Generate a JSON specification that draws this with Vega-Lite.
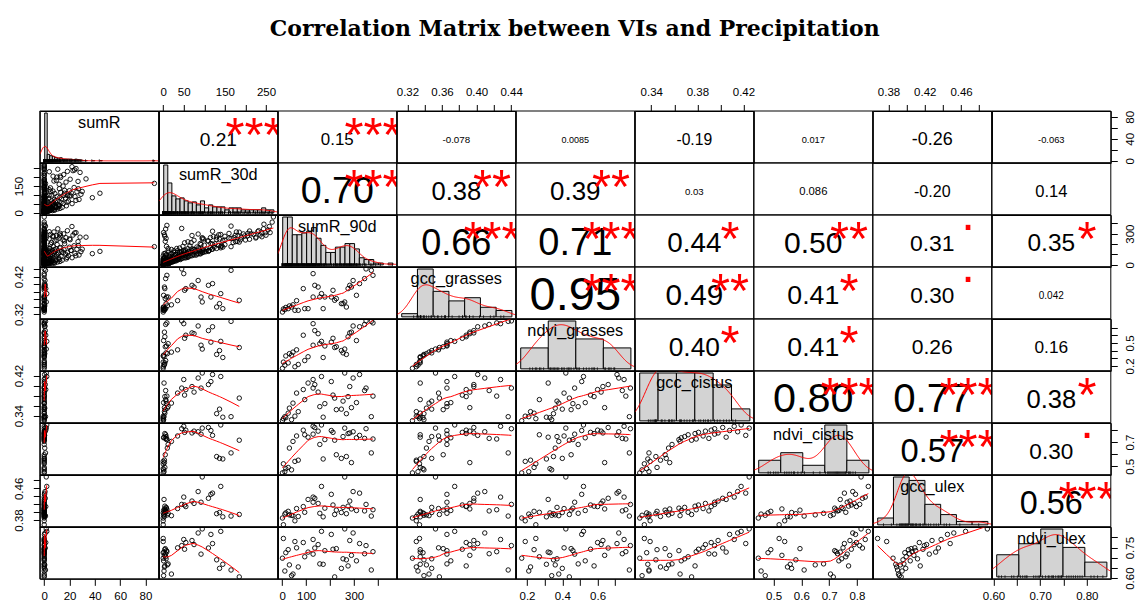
{
  "$schema": "https://vega.github.io/schema/vega-lite/v6.json",
  "title": {"text": "Correlation Matrix between VIs and Precipitation", "font": "DejaVu Serif", "fontSize": 22, "fontWeight": "bold", "color": "#000", "anchor": "middle", "baseline": "alphabetic", "offset": 28},
  "padding": {"left": 12.8, "top": 18, "right": 0, "bottom": 0},
  "datasets": {
    "obs": [
      {"sumR":0,"sumR_30d":0,"sumR_90d":1,"gcc_grasses":0.3258,"ndvi_grasses":0.17,"gcc_cistus":0.330,"ndvi_cistus":0.445,"gcc_ulex":0.385,"ndvi_ulex":0.698},
      {"sumR":0,"sumR_30d":0,"sumR_90d":5,"gcc_grasses":0.334,"ndvi_grasses":0.25,"gcc_cistus":0.334,"ndvi_cistus":0.52,"gcc_ulex":0.368,"ndvi_ulex":0.795},
      {"sumR":0,"sumR_30d":2,"sumR_90d":11,"gcc_grasses":0.3322,"ndvi_grasses":0.21,"gcc_cistus":0.338,"ndvi_cistus":0.455,"gcc_ulex":0.395,"ndvi_ulex":0.635},
      {"sumR":0,"sumR_30d":0,"sumR_90d":15,"gcc_grasses":0.338,"ndvi_grasses":0.33,"gcc_cistus":0.336,"ndvi_cistus":0.48,"gcc_ulex":0.398,"ndvi_ulex":0.725},
      {"sumR":0,"sumR_30d":4,"sumR_90d":25,"gcc_grasses":0.3348,"ndvi_grasses":0.24,"gcc_cistus":0.345,"ndvi_cistus":0.49,"gcc_ulex":0.402,"ndvi_ulex":0.74},
      {"sumR":0.4,"sumR_30d":10,"sumR_90d":30,"gcc_grasses":0.342,"ndvi_grasses":0.36,"gcc_cistus":0.355,"ndvi_cistus":0.65,"gcc_ulex":0.393,"ndvi_ulex":0.665},
      {"sumR":0,"sumR_30d":1,"sumR_90d":39,"gcc_grasses":0.3391,"ndvi_grasses":0.34,"gcc_cistus":0.332,"ndvi_cistus":0.47,"gcc_ulex":0.392,"ndvi_ulex":0.612},
      {"sumR":0,"sumR_30d":20,"sumR_90d":45,"gcc_grasses":0.345,"ndvi_grasses":0.38,"gcc_cistus":0.365,"ndvi_cistus":0.705,"gcc_ulex":0.391,"ndvi_ulex":0.62},
      {"sumR":0,"sumR_30d":0,"sumR_90d":53,"gcc_grasses":0.3303,"ndvi_grasses":0.19,"gcc_cistus":0.339,"ndvi_cistus":0.54,"gcc_ulex":0.378,"ndvi_ulex":0.78},
      {"sumR":0,"sumR_30d":35,"sumR_90d":60,"gcc_grasses":0.356,"ndvi_grasses":0.41,"gcc_cistus":0.385,"ndvi_cistus":0.75,"gcc_ulex":0.409,"ndvi_ulex":0.749},
      {"sumR":0,"sumR_30d":3,"sumR_90d":67,"gcc_grasses":0.3303,"ndvi_grasses":0.22,"gcc_cistus":0.348,"ndvi_cistus":0.55,"gcc_ulex":0.389,"ndvi_ulex":0.655},
      {"sumR":1.2,"sumR_30d":55,"sumR_90d":88,"gcc_grasses":0.388,"ndvi_grasses":0.6,"gcc_cistus":0.392,"ndvi_cistus":0.798,"gcc_ulex":0.414,"ndvi_ulex":0.775},
      {"sumR":0,"sumR_30d":6,"sumR_90d":94,"gcc_grasses":0.3348,"ndvi_grasses":0.27,"gcc_cistus":0.372,"ndvi_cistus":0.76,"gcc_ulex":0.3995,"ndvi_ulex":0.705},
      {"sumR":0,"sumR_30d":2,"sumR_90d":108,"gcc_grasses":0.3348,"ndvi_grasses":0.32,"gcc_cistus":0.405,"ndvi_cistus":0.74,"gcc_ulex":0.432,"ndvi_ulex":0.728},
      {"sumR":0,"sumR_30d":92,"sumR_90d":129,"gcc_grasses":0.3657,"ndvi_grasses":0.47,"gcc_cistus":0.395,"ndvi_cistus":0.765,"gcc_ulex":0.425,"ndvi_ulex":0.718},
      {"sumR":0,"sumR_30d":50,"sumR_90d":129,"gcc_grasses":0.4278,"ndvi_grasses":0.75,"gcc_cistus":0.412,"ndvi_cistus":0.83,"gcc_ulex":0.438,"ndvi_ulex":0.79},
      {"sumR":0.8,"sumR_30d":110,"sumR_90d":136,"gcc_grasses":0.3968,"ndvi_grasses":0.66,"gcc_cistus":0.402,"ndvi_cistus":0.82,"gcc_ulex":0.435,"ndvi_ulex":0.748},
      {"sumR":0,"sumR_30d":75,"sumR_90d":150,"gcc_grasses":0.3922,"ndvi_grasses":0.62,"gcc_cistus":0.387,"ndvi_cistus":0.79,"gcc_ulex":0.422,"ndvi_ulex":0.765},
      {"sumR":0,"sumR_30d":12,"sumR_90d":157,"gcc_grasses":0.3657,"ndvi_grasses":0.49,"gcc_cistus":0.358,"ndvi_cistus":0.68,"gcc_ulex":0.397,"ndvi_ulex":0.67},
      {"sumR":2,"sumR_30d":140,"sumR_90d":164,"gcc_grasses":0.3747,"ndvi_grasses":0.52,"gcc_cistus":0.418,"ndvi_cistus":0.841,"gcc_ulex":0.465,"ndvi_ulex":0.83},
      {"sumR":0,"sumR_30d":145,"sumR_90d":171,"gcc_grasses":0.3348,"ndvi_grasses":0.31,"gcc_cistus":0.337,"ndvi_cistus":0.56,"gcc_ulex":0.388,"ndvi_ulex":0.668},
      {"sumR":0,"sumR_30d":8,"sumR_90d":178,"gcc_grasses":0.3657,"ndvi_grasses":0.46,"gcc_cistus":0.364,"ndvi_cistus":0.72,"gcc_ulex":0.41,"ndvi_ulex":0.735},
      {"sumR":0.2,"sumR_30d":116,"sumR_90d":205,"gcc_grasses":0.3657,"ndvi_grasses":0.51,"gcc_cistus":0.408,"ndvi_cistus":0.795,"gcc_ulex":0.445,"ndvi_ulex":0.815},
      {"sumR":0,"sumR_30d":52,"sumR_90d":212,"gcc_grasses":0.3835,"ndvi_grasses":0.56,"gcc_cistus":0.381,"ndvi_cistus":0.78,"gcc_ulex":0.418,"ndvi_ulex":0.742},
      {"sumR":0,"sumR_30d":185,"sumR_90d":219,"gcc_grasses":0.357,"ndvi_grasses":0.44,"gcc_cistus":0.375,"ndvi_cistus":0.715,"gcc_ulex":0.394,"ndvi_ulex":0.606},
      {"sumR":0,"sumR_30d":5,"sumR_90d":226,"gcc_grasses":0.3614,"ndvi_grasses":0.45,"gcc_cistus":0.352,"ndvi_cistus":0.595,"gcc_ulex":0.405,"ndvi_ulex":0.745},
      {"sumR":0,"sumR_30d":137,"sumR_90d":247,"gcc_grasses":0.3481,"ndvi_grasses":0.4,"gcc_cistus":0.353,"ndvi_cistus":0.565,"gcc_ulex":0.399,"ndvi_ulex":0.648},
      {"sumR":0,"sumR_30d":7,"sumR_90d":254,"gcc_grasses":0.3481,"ndvi_grasses":0.37,"gcc_cistus":0.369,"ndvi_cistus":0.745,"gcc_ulex":0.412,"ndvi_ulex":0.695},
      {"sumR":1.6,"sumR_30d":95,"sumR_90d":261,"gcc_grasses":0.3525,"ndvi_grasses":0.42,"gcc_cistus":0.425,"ndvi_cistus":0.815,"gcc_ulex":0.489,"ndvi_ulex":0.842},
      {"sumR":0,"sumR_30d":130,"sumR_90d":268,"gcc_grasses":0.3391,"ndvi_grasses":0.35,"gcc_cistus":0.344,"ndvi_cistus":0.58,"gcc_ulex":0.396,"ndvi_ulex":0.69},
      {"sumR":0,"sumR_30d":4,"sumR_90d":275,"gcc_grasses":0.388,"ndvi_grasses":0.58,"gcc_cistus":0.378,"ndvi_cistus":0.77,"gcc_ulex":0.415,"ndvi_ulex":0.66},
      {"sumR":0,"sumR_30d":70,"sumR_90d":282,"gcc_grasses":0.3968,"ndvi_grasses":0.63,"gcc_cistus":0.398,"ndvi_cistus":0.775,"gcc_ulex":0.428,"ndvi_ulex":0.785},
      {"sumR":0,"sumR_30d":3,"sumR_90d":289,"gcc_grasses":0.3922,"ndvi_grasses":0.64,"gcc_cistus":0.356,"ndvi_cistus":0.53,"gcc_ulex":0.408,"ndvi_ulex":0.712},
      {"sumR":0.6,"sumR_30d":85,"sumR_90d":296,"gcc_grasses":0.4095,"ndvi_grasses":0.72,"gcc_cistus":0.415,"ndvi_cistus":0.785,"gcc_ulex":0.452,"ndvi_ulex":0.822},
      {"sumR":0,"sumR_30d":1,"sumR_90d":310,"gcc_grasses":0.3702,"ndvi_grasses":0.53,"gcc_cistus":0.366,"ndvi_cistus":0.735,"gcc_ulex":0.404,"ndvi_ulex":0.685},
      {"sumR":0.3,"sumR_30d":120,"sumR_90d":323,"gcc_grasses":0.4013,"ndvi_grasses":0.71,"gcc_cistus":0.422,"ndvi_cistus":0.755,"gcc_ulex":0.448,"ndvi_ulex":0.77},
      {"sumR":0,"sumR_30d":6,"sumR_90d":344,"gcc_grasses":0.4146,"ndvi_grasses":0.74,"gcc_cistus":0.39,"ndvi_cistus":0.73,"gcc_ulex":0.403,"ndvi_ulex":0.72},
      {"sumR":0,"sumR_30d":45,"sumR_90d":350,"gcc_grasses":0.4403,"ndvi_grasses":0.786,"gcc_cistus":0.395,"ndvi_cistus":0.81,"gcc_ulex":0.4195,"ndvi_ulex":0.76},
      {"sumR":1,"sumR_30d":165,"sumR_90d":372,"gcc_grasses":0.4366,"ndvi_grasses":0.78,"gcc_cistus":0.338,"ndvi_cistus":0.61,"gcc_ulex":0.39,"ndvi_ulex":0.64},
      {"sumR":0,"sumR_30d":9,"sumR_90d":379,"gcc_grasses":0.4233,"ndvi_grasses":0.76,"gcc_cistus":0.379,"ndvi_cistus":0.725,"gcc_ulex":0.406,"ndvi_ulex":0.73},
      {"sumR":0,"sumR_30d":0,"sumR_90d":0},{"sumR":0,"sumR_30d":0,"sumR_90d":0},{"sumR":0,"sumR_30d":0,"sumR_90d":0},{"sumR":0,"sumR_30d":0,"sumR_90d":0},{"sumR":0,"sumR_30d":0,"sumR_90d":0},
      {"sumR":0,"sumR_30d":0,"sumR_90d":2},{"sumR":0,"sumR_30d":1,"sumR_90d":4},{"sumR":0,"sumR_30d":0,"sumR_90d":6},{"sumR":0.5,"sumR_30d":3,"sumR_90d":8},{"sumR":0,"sumR_30d":2,"sumR_90d":10},
      {"sumR":0,"sumR_30d":6,"sumR_90d":12},{"sumR":1.2,"sumR_30d":8,"sumR_90d":14},{"sumR":0,"sumR_30d":4,"sumR_90d":16},{"sumR":0,"sumR_30d":11,"sumR_90d":18},{"sumR":2.5,"sumR_30d":15,"sumR_90d":19},
      {"sumR":0,"sumR_30d":0,"sumR_90d":21},{"sumR":0,"sumR_30d":2,"sumR_90d":22},{"sumR":0,"sumR_30d":5,"sumR_90d":24},{"sumR":0,"sumR_30d":0,"sumR_90d":25},{"sumR":3,"sumR_30d":12,"sumR_90d":26},
      {"sumR":0,"sumR_30d":18,"sumR_90d":27},{"sumR":0,"sumR_30d":8,"sumR_90d":29},{"sumR":0,"sumR_30d":0,"sumR_90d":30},{"sumR":6,"sumR_30d":22,"sumR_90d":31},{"sumR":0,"sumR_30d":3,"sumR_90d":33},
      {"sumR":0,"sumR_30d":14,"sumR_90d":34},{"sumR":0,"sumR_30d":26,"sumR_90d":35},{"sumR":1,"sumR_30d":9,"sumR_90d":36},{"sumR":0,"sumR_30d":0,"sumR_90d":37},{"sumR":9,"sumR_30d":31,"sumR_90d":38},
      {"sumR":0,"sumR_30d":19,"sumR_90d":39},{"sumR":0,"sumR_30d":0,"sumR_90d":41},{"sumR":0,"sumR_30d":12,"sumR_90d":43},{"sumR":4.5,"sumR_30d":28,"sumR_90d":45},{"sumR":0,"sumR_30d":35,"sumR_90d":46},
      {"sumR":0,"sumR_30d":6,"sumR_90d":48},{"sumR":0,"sumR_30d":20,"sumR_90d":50},{"sumR":12,"sumR_30d":42,"sumR_90d":52},{"sumR":0,"sumR_30d":1,"sumR_90d":54},{"sumR":0,"sumR_30d":15,"sumR_90d":56},
      {"sumR":2,"sumR_30d":38,"sumR_90d":58},{"sumR":0,"sumR_30d":0,"sumR_90d":61},{"sumR":0,"sumR_30d":25,"sumR_90d":62},{"sumR":7,"sumR_30d":47,"sumR_90d":64},{"sumR":0,"sumR_30d":10,"sumR_90d":66},
      {"sumR":0,"sumR_30d":55,"sumR_90d":68},{"sumR":0,"sumR_30d":33,"sumR_90d":70},{"sumR":18,"sumR_30d":60,"sumR_90d":72},{"sumR":0,"sumR_30d":4,"sumR_90d":74},{"sumR":0,"sumR_30d":40,"sumR_90d":76},
      {"sumR":0.8,"sumR_30d":22,"sumR_90d":78},{"sumR":0,"sumR_30d":15,"sumR_90d":81},{"sumR":0,"sumR_30d":62,"sumR_90d":83},{"sumR":5,"sumR_30d":35,"sumR_90d":85},{"sumR":0,"sumR_30d":0,"sumR_90d":86},
      {"sumR":25,"sumR_30d":70,"sumR_90d":88},{"sumR":0,"sumR_30d":48,"sumR_90d":90},{"sumR":0,"sumR_30d":28,"sumR_90d":92},{"sumR":3.5,"sumR_30d":80,"sumR_90d":94},{"sumR":0,"sumR_30d":8,"sumR_90d":96},
      {"sumR":0,"sumR_30d":55,"sumR_90d":98},{"sumR":0,"sumR_30d":30,"sumR_90d":101},{"sumR":0,"sumR_30d":72,"sumR_90d":102},{"sumR":11,"sumR_30d":45,"sumR_90d":104},{"sumR":0,"sumR_30d":90,"sumR_90d":105},
      {"sumR":0,"sumR_30d":18,"sumR_90d":107},{"sumR":38,"sumR_30d":85,"sumR_90d":108},{"sumR":0,"sumR_30d":58,"sumR_90d":110},{"sumR":0,"sumR_30d":5,"sumR_90d":112},{"sumR":2,"sumR_30d":66,"sumR_90d":114},
      {"sumR":0,"sumR_30d":40,"sumR_90d":115},{"sumR":0,"sumR_30d":95,"sumR_90d":117},{"sumR":15,"sumR_30d":52,"sumR_90d":119},{"sumR":0,"sumR_30d":25,"sumR_90d":121},{"sumR":0,"sumR_30d":78,"sumR_90d":123},
      {"sumR":6,"sumR_30d":100,"sumR_90d":125},{"sumR":0,"sumR_30d":44,"sumR_90d":126},{"sumR":0,"sumR_30d":62,"sumR_90d":128},{"sumR":44,"sumR_30d":110,"sumR_90d":130},{"sumR":0,"sumR_30d":12,"sumR_90d":132},
      {"sumR":0,"sumR_30d":88,"sumR_90d":134},{"sumR":1.5,"sumR_30d":70,"sumR_90d":136},{"sumR":0,"sumR_30d":35,"sumR_90d":137},{"sumR":21,"sumR_30d":95,"sumR_90d":139},{"sumR":0,"sumR_30d":50,"sumR_90d":141},
      {"sumR":0,"sumR_30d":105,"sumR_90d":144},{"sumR":8,"sumR_30d":75,"sumR_90d":146},{"sumR":0,"sumR_30d":20,"sumR_90d":148},{"sumR":30,"sumR_30d":120,"sumR_90d":151},{"sumR":0,"sumR_30d":88,"sumR_90d":153},
      {"sumR":0,"sumR_30d":60,"sumR_90d":156},{"sumR":4,"sumR_30d":130,"sumR_90d":158},{"sumR":0,"sumR_30d":40,"sumR_90d":162},{"sumR":13,"sumR_30d":115,"sumR_90d":167},{"sumR":0,"sumR_30d":82,"sumR_90d":172},
      {"sumR":87,"sumR_30d":165,"sumR_90d":175},{"sumR":0,"sumR_30d":140,"sumR_90d":177},{"sumR":0,"sumR_30d":65,"sumR_90d":182},{"sumR":27,"sumR_30d":135,"sumR_90d":186},{"sumR":0,"sumR_30d":100,"sumR_90d":189},
      {"sumR":0,"sumR_30d":150,"sumR_90d":194},{"sumR":5,"sumR_30d":120,"sumR_90d":198},{"sumR":0,"sumR_30d":90,"sumR_90d":205},{"sumR":0,"sumR_30d":170,"sumR_90d":215},{"sumR":0,"sumR_30d":60,"sumR_90d":222},
      {"sumR":0,"sumR_30d":180,"sumR_90d":225},{"sumR":16,"sumR_30d":110,"sumR_90d":229},{"sumR":0,"sumR_30d":145,"sumR_90d":232},{"sumR":0,"sumR_30d":75,"sumR_90d":236},{"sumR":10,"sumR_30d":200,"sumR_90d":239},
      {"sumR":0,"sumR_30d":130,"sumR_90d":243},{"sumR":0,"sumR_30d":210,"sumR_90d":246},{"sumR":20,"sumR_30d":95,"sumR_90d":250},{"sumR":0,"sumR_30d":165,"sumR_90d":254},{"sumR":0,"sumR_30d":225,"sumR_90d":258},
      {"sumR":0,"sumR_30d":115,"sumR_90d":262},{"sumR":33,"sumR_30d":190,"sumR_90d":266},{"sumR":0,"sumR_30d":240,"sumR_90d":270},{"sumR":0,"sumR_30d":150,"sumR_90d":274},{"sumR":7,"sumR_30d":205,"sumR_90d":278},
      {"sumR":0,"sumR_30d":175,"sumR_90d":282},{"sumR":0,"sumR_30d":250,"sumR_90d":285},{"sumR":12,"sumR_30d":135,"sumR_90d":289},{"sumR":0,"sumR_30d":220,"sumR_90d":293},{"sumR":0,"sumR_30d":195,"sumR_90d":297},
      {"sumR":0,"sumR_30d":160,"sumR_90d":302},{"sumR":24,"sumR_30d":240,"sumR_90d":306},{"sumR":0,"sumR_30d":260,"sumR_90d":310},{"sumR":0,"sumR_30d":185,"sumR_90d":314},{"sumR":4,"sumR_30d":230,"sumR_90d":318},
      {"sumR":0,"sumR_30d":210,"sumR_90d":325},{"sumR":0,"sumR_30d":255,"sumR_90d":335},{"sumR":0,"sumR_30d":245,"sumR_90d":390},{"sumR":0,"sumR_30d":265,"sumR_90d":410},{"sumR":0,"sumR_30d":268,"sumR_90d":460},
      {"sumR":2.2,"sumR_30d":10,"sumR_90d":11},{"sumR":3.5,"sumR_30d":11,"sumR_90d":12},{"sumR":4.1,"sumR_30d":12,"sumR_90d":13},{"sumR":2.8,"sumR_30d":10,"sumR_90d":14},{"sumR":6.5,"sumR_30d":13,"sumR_90d":15},
      {"sumR":3.0,"sumR_30d":14,"sumR_90d":16},{"sumR":8.2,"sumR_30d":15,"sumR_90d":17},{"sumR":5.5,"sumR_30d":16,"sumR_90d":19},{"sumR":2.4,"sumR_30d":12,"sumR_90d":21},{"sumR":7.8,"sumR_30d":18,"sumR_90d":23},
      {"sumR":4.6,"sumR_30d":15,"sumR_90d":26},{"sumR":10.5,"sumR_30d":22,"sumR_90d":28},{"sumR":3.3,"sumR_30d":11,"sumR_90d":30},{"sumR":12.4,"sumR_30d":25,"sumR_90d":33},{"sumR":5.9,"sumR_30d":20,"sumR_90d":36},
      {"sumR":2.7,"sumR_30d":14,"sumR_90d":39},{"sumR":6.3,"sumR_30d":24,"sumR_90d":42},{"sumR":14.2,"sumR_30d":31,"sumR_90d":45},{"sumR":3.1,"sumR_30d":13,"sumR_90d":49},{"sumR":9.4,"sumR_30d":36,"sumR_90d":53},
      {"sumR":17.5,"sumR_30d":40,"sumR_90d":57},{"sumR":4.8,"sumR_30d":19,"sumR_90d":61},{"sumR":11.6,"sumR_30d":45,"sumR_90d":65},{"sumR":22.0,"sumR_30d":52,"sumR_90d":69},{"sumR":2.9,"sumR_30d":28,"sumR_90d":73},
      {"sumR":8.7,"sumR_30d":38,"sumR_90d":77},{"sumR":13.3,"sumR_30d":58,"sumR_90d":81},{"sumR":3.8,"sumR_30d":16,"sumR_90d":84},{"sumR":19.1,"sumR_30d":66,"sumR_90d":87},{"sumR":6.6,"sumR_30d":42,"sumR_90d":91},
      {"sumR":27.5,"sumR_30d":75,"sumR_90d":95},{"sumR":9.9,"sumR_30d":30,"sumR_90d":99},{"sumR":5.2,"sumR_30d":48,"sumR_90d":101},{"sumR":16.8,"sumR_30d":82,"sumR_90d":104},{"sumR":2.6,"sumR_30d":22,"sumR_90d":108},
      {"sumR":24.3,"sumR_30d":91,"sumR_90d":111},{"sumR":7.4,"sumR_30d":57,"sumR_90d":115},{"sumR":11.1,"sumR_30d":35,"sumR_90d":118},{"sumR":18.5,"sumR_30d":96,"sumR_90d":121},{"sumR":4.2,"sumR_30d":40,"sumR_90d":124},
      {"sumR":29.0,"sumR_30d":104,"sumR_90d":127},{"sumR":8.8,"sumR_30d":62,"sumR_90d":130},{"sumR":13.7,"sumR_30d":77,"sumR_90d":133},{"sumR":3.4,"sumR_30d":26,"sumR_90d":136},{"sumR":21.4,"sumR_30d":112,"sumR_90d":139},
      {"sumR":6.1,"sumR_30d":54,"sumR_90d":142},{"sumR":15.6,"sumR_30d":98,"sumR_90d":146},{"sumR":25.8,"sumR_30d":118,"sumR_90d":150},{"sumR":9.3,"sumR_30d":70,"sumR_90d":154},{"sumR":4.4,"sumR_30d":33,"sumR_90d":158},
      {"sumR":12.2,"sumR_30d":86,"sumR_90d":163},{"sumR":19.9,"sumR_30d":124,"sumR_90d":170},{"sumR":7.0,"sumR_30d":48,"sumR_90d":178},{"sumR":23.6,"sumR_30d":142,"sumR_90d":184},{"sumR":10.2,"sumR_30d":92,"sumR_90d":195},
      {"sumR":16.1,"sumR_30d":126,"sumR_90d":203},{"sumR":5.8,"sumR_30d":68,"sumR_90d":214},{"sumR":26.7,"sumR_30d":176,"sumR_90d":223},{"sumR":8.4,"sumR_30d":108,"sumR_90d":230},{"sumR":14.9,"sumR_30d":150,"sumR_90d":238},
      {"sumR":20.5,"sumR_30d":188,"sumR_90d":242},{"sumR":3.9,"sumR_30d":98,"sumR_90d":249},{"sumR":11.8,"sumR_30d":160,"sumR_90d":256},{"sumR":17.2,"sumR_30d":172,"sumR_90d":261},{"sumR":28.3,"sumR_30d":226,"sumR_90d":266},
      {"sumR":6.9,"sumR_30d":122,"sumR_90d":272},{"sumR":13.0,"sumR_30d":198,"sumR_90d":278},{"sumR":9.6,"sumR_30d":182,"sumR_90d":281},{"sumR":22.7,"sumR_30d":236,"sumR_90d":286},{"sumR":4.9,"sumR_30d":140,"sumR_90d":292},
      {"sumR":15.4,"sumR_30d":214,"sumR_90d":298},{"sumR":12.6,"sumR_30d":206,"sumR_90d":303},{"sumR":25.1,"sumR_30d":248,"sumR_90d":309},{"sumR":7.7,"sumR_30d":178,"sumR_90d":316},{"sumR":18.3,"sumR_30d":232,"sumR_90d":328},
      {"sumR":10.7,"sumR_30d":244,"sumR_90d":346},{"sumR":21.9,"sumR_30d":258,"sumR_90d":368}
    ],
    "cors": [
      {"v1":"sumR","v2":"sumR_30d","r":0.21,"label":"0.21","signif":"***"},
      {"v1":"sumR","v2":"sumR_90d","r":0.15,"label":"0.15","signif":"***"},
      {"v1":"sumR","v2":"gcc_grasses","r":-0.078,"label":"-0.078","signif":""},
      {"v1":"sumR","v2":"ndvi_grasses","r":0.0085,"label":"0.0085","signif":""},
      {"v1":"sumR","v2":"gcc_cistus","r":-0.19,"label":"-0.19","signif":""},
      {"v1":"sumR","v2":"ndvi_cistus","r":0.017,"label":"0.017","signif":""},
      {"v1":"sumR","v2":"gcc_ulex","r":-0.26,"label":"-0.26","signif":""},
      {"v1":"sumR","v2":"ndvi_ulex","r":-0.063,"label":"-0.063","signif":""},
      {"v1":"sumR_30d","v2":"sumR_90d","r":0.70,"label":"0.70","signif":"***"},
      {"v1":"sumR_30d","v2":"gcc_grasses","r":0.38,"label":"0.38","signif":"**"},
      {"v1":"sumR_30d","v2":"ndvi_grasses","r":0.39,"label":"0.39","signif":"**"},
      {"v1":"sumR_30d","v2":"gcc_cistus","r":0.03,"label":"0.03","signif":""},
      {"v1":"sumR_30d","v2":"ndvi_cistus","r":0.086,"label":"0.086","signif":""},
      {"v1":"sumR_30d","v2":"gcc_ulex","r":-0.20,"label":"-0.20","signif":""},
      {"v1":"sumR_30d","v2":"ndvi_ulex","r":0.14,"label":"0.14","signif":""},
      {"v1":"sumR_90d","v2":"gcc_grasses","r":0.66,"label":"0.66","signif":"***"},
      {"v1":"sumR_90d","v2":"ndvi_grasses","r":0.71,"label":"0.71","signif":"***"},
      {"v1":"sumR_90d","v2":"gcc_cistus","r":0.44,"label":"0.44","signif":"*"},
      {"v1":"sumR_90d","v2":"ndvi_cistus","r":0.50,"label":"0.50","signif":"**"},
      {"v1":"sumR_90d","v2":"gcc_ulex","r":0.31,"label":"0.31","signif":"."},
      {"v1":"sumR_90d","v2":"ndvi_ulex","r":0.35,"label":"0.35","signif":"*"},
      {"v1":"gcc_grasses","v2":"ndvi_grasses","r":0.95,"label":"0.95","signif":"***"},
      {"v1":"gcc_grasses","v2":"gcc_cistus","r":0.49,"label":"0.49","signif":"**"},
      {"v1":"gcc_grasses","v2":"ndvi_cistus","r":0.41,"label":"0.41","signif":"*"},
      {"v1":"gcc_grasses","v2":"gcc_ulex","r":0.30,"label":"0.30","signif":"."},
      {"v1":"gcc_grasses","v2":"ndvi_ulex","r":0.042,"label":"0.042","signif":""},
      {"v1":"ndvi_grasses","v2":"gcc_cistus","r":0.40,"label":"0.40","signif":"*"},
      {"v1":"ndvi_grasses","v2":"ndvi_cistus","r":0.41,"label":"0.41","signif":"*"},
      {"v1":"ndvi_grasses","v2":"gcc_ulex","r":0.26,"label":"0.26","signif":""},
      {"v1":"ndvi_grasses","v2":"ndvi_ulex","r":0.16,"label":"0.16","signif":""},
      {"v1":"gcc_cistus","v2":"ndvi_cistus","r":0.80,"label":"0.80","signif":"***"},
      {"v1":"gcc_cistus","v2":"gcc_ulex","r":0.77,"label":"0.77","signif":"***"},
      {"v1":"gcc_cistus","v2":"ndvi_ulex","r":0.38,"label":"0.38","signif":"*"},
      {"v1":"ndvi_cistus","v2":"gcc_ulex","r":0.57,"label":"0.57","signif":"***"},
      {"v1":"ndvi_cistus","v2":"ndvi_ulex","r":0.30,"label":"0.30","signif":"."},
      {"v1":"gcc_ulex","v2":"ndvi_ulex","r":0.56,"label":"0.56","signif":"***"}
    ],
    "vars": [{"name":"sumR"},{"name":"sumR_30d"},{"name":"sumR_90d"},{"name":"gcc_grasses"},{"name":"ndvi_grasses"},{"name":"gcc_cistus"},{"name":"ndvi_cistus"},{"name":"gcc_ulex"},{"name":"ndvi_ulex"}],
    "frame": [{"part":"panel"}]
  },
  "data": {"name": "obs"},
  "columns": 9,
  "spacing": 0,
  "bounds": "flush",
  "resolve": {"scale": {"size": "independent"}},
  "concat": [
    {"width":119,"height":51.85,"transform":[{"filter":"isValid(datum.sumR)"}],"layer":[
      {"mark":{"type":"bar","clip":true},"encoding":{"x":{"field":"sumR","type":"quantitative","bin":{"extent":[0,88],"step":2,"nice":false},"scale":{"domain":[-3.52,91.52],"nice":false},"axis":null},"y":{"aggregate":"count","type":"quantitative","scale":{"domain":[0,140],"nice":false,"padding":2},"axis":null}}},
      {"transform":[{"density":"sumR","counts":true,"bandwidth":3,"extent":[-3.52,91.52],"steps":200}],"mark":{"type":"line","clip":true},"encoding":{"x":{"field":"value","type":"quantitative","scale":{"domain":[-3.52,91.52],"nice":false},"axis":null},"y":{"field":"density","type":"quantitative","scale":{"domain":[0,70],"nice":false,"padding":2},"axis":null}}},
      {"mark":{"type":"tick","orient":"vertical","size":3},"encoding":{"x":{"field":"sumR","type":"quantitative","scale":{"domain":[-3.52,91.52],"nice":false},"axis":null},"y":{"datum":0,"type":"quantitative","scale":{"domain":[0,140],"nice":false,"padding":2},"axis":null}}},
      {"data":{"name":"vars"},"transform":[{"filter":"datum.name=='sumR'"}],"mark":{"type":"text","fontSize":16.3,"baseline":"alphabetic","dy":-9.4},"encoding":{"text":{"field":"name","type":"nominal"}}},
      {"data":{"name":"frame"},"mark":"rect","encoding":{}}
    ],"resolve":{"scale":{"x":"independent","y":"independent"}}},
    {"width":119,"height":51.85,"data":{"name":"cors"},"transform":[{"filter":"datum.v1=='sumR'&&datum.v2=='sumR_30d'"}],"layer":[
      {"data":{"name":"obs"},"mark":{"type":"point","opacity":0},"encoding":{"x":{"field":"sumR_30d","type":"quantitative","scale":{"domain":[-10.7,278.7],"nice":false},"axis":{"orient":"top","title":null,"labelOverlap":false,"values":[0,50,100,150,200,250],"format":"d","labelExpr":"indexof(['0','50','150','250'],datum.label)>=0?datum.label:''"}}}},
      {"mark":{"type":"text","baseline":"middle","dy":3.5},"encoding":{"text":{"field":"label","type":"nominal"},"size":{"field":"r","type":"quantitative","scale":{"domain":[-1,-0.1,-0.0999,-0.0001,0,0.0999,0.1,1],"range":[41.7,12.84,10.32,7.74,8.78,11.7,15.04,48.9],"nice":false},"legend":null}}},
      {"transform":[{"filter":"datum.signif!='.'"}],"mark":{"type":"text","color":"#ff0000","fontSize":48.9,"baseline":"alphabetic","dx":35.7,"dy":14.3,"clip":true},"encoding":{"text":{"field":"signif","type":"nominal"}}},
      {"transform":[{"filter":"datum.signif=='.'"}],"mark":{"type":"text","color":"#ff0000","fontSize":48.9,"baseline":"alphabetic","dx":35.7,"dy":-11.2},"encoding":{"text":{"field":"signif","type":"nominal"}}},
      {"data":{"name":"frame"},"mark":"rect","encoding":{}}
    ]},
    {"width":119,"height":51.85,"data":{"name":"cors"},"transform":[{"filter":"datum.v1=='sumR'&&datum.v2=='sumR_90d'"}],"layer":[
      {"mark":{"type":"text","baseline":"middle","dy":3.5},"encoding":{"text":{"field":"label","type":"nominal"},"size":{"field":"r","type":"quantitative","scale":{"domain":[-1,-0.1,-0.0999,-0.0001,0,0.0999,0.1,1],"range":[41.7,12.84,10.32,7.74,8.78,11.7,15.04,48.9],"nice":false},"legend":null}}},
      {"transform":[{"filter":"datum.signif!='.'"}],"mark":{"type":"text","color":"#ff0000","fontSize":48.9,"baseline":"alphabetic","dx":35.7,"dy":14.3,"clip":true},"encoding":{"text":{"field":"signif","type":"nominal"}}},
      {"transform":[{"filter":"datum.signif=='.'"}],"mark":{"type":"text","color":"#ff0000","fontSize":48.9,"baseline":"alphabetic","dx":35.7,"dy":-11.2},"encoding":{"text":{"field":"signif","type":"nominal"}}},
      {"data":{"name":"frame"},"mark":"rect","encoding":{}}
    ]},
    {"width":119,"height":51.85,"data":{"name":"cors"},"transform":[{"filter":"datum.v1=='sumR'&&datum.v2=='gcc_grasses'"}],"layer":[
      {"data":{"name":"obs"},"mark":{"type":"point","opacity":0},"encoding":{"x":{"field":"gcc_grasses","type":"quantitative","scale":{"domain":[0.3077,0.4454],"nice":false},"axis":{"orient":"top","title":null,"labelOverlap":false,"values":[0.32,0.34,0.36,0.38,0.4,0.42,0.44],"format":".2f","labelExpr":"indexof(['0.32','0.36','0.40','0.44'],datum.label)>=0?datum.label:''"}}}},
      {"mark":{"type":"text","baseline":"middle","dy":3.5},"encoding":{"text":{"field":"label","type":"nominal"},"size":{"field":"r","type":"quantitative","scale":{"domain":[-1,-0.1,-0.0999,-0.0001,0,0.0999,0.1,1],"range":[41.7,12.84,10.32,7.74,8.78,11.7,15.04,48.9],"nice":false},"legend":null}}},
      {"transform":[{"filter":"datum.signif!='.'"}],"mark":{"type":"text","color":"#ff0000","fontSize":48.9,"baseline":"alphabetic","dx":35.7,"dy":14.3,"clip":true},"encoding":{"text":{"field":"signif","type":"nominal"}}},
      {"transform":[{"filter":"datum.signif=='.'"}],"mark":{"type":"text","color":"#ff0000","fontSize":48.9,"baseline":"alphabetic","dx":35.7,"dy":-11.2},"encoding":{"text":{"field":"signif","type":"nominal"}}},
      {"data":{"name":"frame"},"mark":"rect","encoding":{}}
    ]},
    {"width":119,"height":51.85,"data":{"name":"cors"},"transform":[{"filter":"datum.v1=='sumR'&&datum.v2=='ndvi_grasses'"}],"layer":[
      {"mark":{"type":"text","baseline":"middle","dy":3.5},"encoding":{"text":{"field":"label","type":"nominal"},"size":{"field":"r","type":"quantitative","scale":{"domain":[-1,-0.1,-0.0999,-0.0001,0,0.0999,0.1,1],"range":[41.7,12.84,10.32,7.74,8.78,11.7,15.04,48.9],"nice":false},"legend":null}}},
      {"transform":[{"filter":"datum.signif!='.'"}],"mark":{"type":"text","color":"#ff0000","fontSize":48.9,"baseline":"alphabetic","dx":35.7,"dy":14.3,"clip":true},"encoding":{"text":{"field":"signif","type":"nominal"}}},
      {"transform":[{"filter":"datum.signif=='.'"}],"mark":{"type":"text","color":"#ff0000","fontSize":48.9,"baseline":"alphabetic","dx":35.7,"dy":-11.2},"encoding":{"text":{"field":"signif","type":"nominal"}}},
      {"data":{"name":"frame"},"mark":"rect","encoding":{}}
    ]},
    {"width":119,"height":51.85,"data":{"name":"cors"},"transform":[{"filter":"datum.v1=='sumR'&&datum.v2=='gcc_cistus'"}],"layer":[
      {"data":{"name":"obs"},"mark":{"type":"point","opacity":0},"encoding":{"x":{"field":"gcc_cistus","type":"quantitative","scale":{"domain":[0.3257,0.429],"nice":false},"axis":{"orient":"top","title":null,"labelOverlap":false,"values":[0.34,0.36,0.38,0.4,0.42],"format":".2f","labelExpr":"indexof(['0.34','0.38','0.42'],datum.label)>=0?datum.label:''"}}}},
      {"mark":{"type":"text","baseline":"middle","dy":3.5},"encoding":{"text":{"field":"label","type":"nominal"},"size":{"field":"r","type":"quantitative","scale":{"domain":[-1,-0.1,-0.0999,-0.0001,0,0.0999,0.1,1],"range":[41.7,12.84,10.32,7.74,8.78,11.7,15.04,48.9],"nice":false},"legend":null}}},
      {"transform":[{"filter":"datum.signif!='.'"}],"mark":{"type":"text","color":"#ff0000","fontSize":48.9,"baseline":"alphabetic","dx":35.7,"dy":14.3,"clip":true},"encoding":{"text":{"field":"signif","type":"nominal"}}},
      {"transform":[{"filter":"datum.signif=='.'"}],"mark":{"type":"text","color":"#ff0000","fontSize":48.9,"baseline":"alphabetic","dx":35.7,"dy":-11.2},"encoding":{"text":{"field":"signif","type":"nominal"}}},
      {"data":{"name":"frame"},"mark":"rect","encoding":{}}
    ]},
    {"width":119,"height":51.85,"data":{"name":"cors"},"transform":[{"filter":"datum.v1=='sumR'&&datum.v2=='ndvi_cistus'"}],"layer":[
      {"mark":{"type":"text","baseline":"middle","dy":3.5},"encoding":{"text":{"field":"label","type":"nominal"},"size":{"field":"r","type":"quantitative","scale":{"domain":[-1,-0.1,-0.0999,-0.0001,0,0.0999,0.1,1],"range":[41.7,12.84,10.32,7.74,8.78,11.7,15.04,48.9],"nice":false},"legend":null}}},
      {"transform":[{"filter":"datum.signif!='.'"}],"mark":{"type":"text","color":"#ff0000","fontSize":48.9,"baseline":"alphabetic","dx":35.7,"dy":14.3,"clip":true},"encoding":{"text":{"field":"signif","type":"nominal"}}},
      {"transform":[{"filter":"datum.signif=='.'"}],"mark":{"type":"text","color":"#ff0000","fontSize":48.9,"baseline":"alphabetic","dx":35.7,"dy":-11.2},"encoding":{"text":{"field":"signif","type":"nominal"}}},
      {"data":{"name":"frame"},"mark":"rect","encoding":{}}
    ]},
    {"width":119,"height":51.85,"data":{"name":"cors"},"transform":[{"filter":"datum.v1=='sumR'&&datum.v2=='gcc_ulex'"}],"layer":[
      {"data":{"name":"obs"},"mark":{"type":"point","opacity":0},"encoding":{"x":{"field":"gcc_ulex","type":"quantitative","scale":{"domain":[0.3627,0.4939],"nice":false},"axis":{"orient":"top","title":null,"labelOverlap":false,"values":[0.38,0.4,0.42,0.44,0.46,0.48],"format":".2f","labelExpr":"indexof(['0.38','0.42','0.46'],datum.label)>=0?datum.label:''"}}}},
      {"mark":{"type":"text","baseline":"middle","dy":3.5},"encoding":{"text":{"field":"label","type":"nominal"},"size":{"field":"r","type":"quantitative","scale":{"domain":[-1,-0.1,-0.0999,-0.0001,0,0.0999,0.1,1],"range":[41.7,12.84,10.32,7.74,8.78,11.7,15.04,48.9],"nice":false},"legend":null}}},
      {"transform":[{"filter":"datum.signif!='.'"}],"mark":{"type":"text","color":"#ff0000","fontSize":48.9,"baseline":"alphabetic","dx":35.7,"dy":14.3,"clip":true},"encoding":{"text":{"field":"signif","type":"nominal"}}},
      {"transform":[{"filter":"datum.signif=='.'"}],"mark":{"type":"text","color":"#ff0000","fontSize":48.9,"baseline":"alphabetic","dx":35.7,"dy":-11.2},"encoding":{"text":{"field":"signif","type":"nominal"}}},
      {"data":{"name":"frame"},"mark":"rect","encoding":{}}
    ]},
    {"width":119,"height":51.85,"data":{"name":"cors"},"transform":[{"filter":"datum.v1=='sumR'&&datum.v2=='ndvi_ulex'"}],"layer":[
      {"data":{"name":"obs"},"mark":{"type":"point","opacity":0},"encoding":{"y":{"field":"sumR","type":"quantitative","scale":{"domain":[-3.5,90.5],"nice":false},"axis":{"orient":"right","title":null,"labelOverlap":false,"values":[0,20,40,60,80],"format":"d","labelExpr":"indexof(['0','40','80'],datum.label)>=0?datum.label:''"}}}},
      {"mark":{"type":"text","baseline":"middle","dy":3.5},"encoding":{"text":{"field":"label","type":"nominal"},"size":{"field":"r","type":"quantitative","scale":{"domain":[-1,-0.1,-0.0999,-0.0001,0,0.0999,0.1,1],"range":[41.7,12.84,10.32,7.74,8.78,11.7,15.04,48.9],"nice":false},"legend":null}}},
      {"transform":[{"filter":"datum.signif!='.'"}],"mark":{"type":"text","color":"#ff0000","fontSize":48.9,"baseline":"alphabetic","dx":35.7,"dy":14.3,"clip":true},"encoding":{"text":{"field":"signif","type":"nominal"}}},
      {"transform":[{"filter":"datum.signif=='.'"}],"mark":{"type":"text","color":"#ff0000","fontSize":48.9,"baseline":"alphabetic","dx":35.7,"dy":-11.2},"encoding":{"text":{"field":"signif","type":"nominal"}}},
      {"data":{"name":"frame"},"mark":"rect","encoding":{}}
    ]},

    {"width":119,"height":51.85,"transform":[{"filter":"isValid(datum.sumR)&&isValid(datum.sumR_30d)"}],"layer":[
      {"mark":{"type":"point","clip":true},"encoding":{"x":{"field":"sumR","type":"quantitative","scale":{"domain":[-3.5,90.5],"nice":false},"axis":null},"y":{"field":"sumR_30d","type":"quantitative","scale":{"domain":[-10.7,278.7],"nice":false},"axis":{"orient":"left","title":null,"labelOverlap":false,"values":[0,50,100,150,200,250],"format":"d","labelExpr":"indexof(['0','150'],datum.label)>=0?datum.label:''"}}}},
      {"transform":[{"loess":"sumR_30d","on":"sumR","bandwidth":0.67}],"mark":{"type":"line","clip":true},"encoding":{"x":{"field":"sumR","type":"quantitative"},"y":{"field":"sumR_30d","type":"quantitative","axis":{"orient":"left","title":null,"labelOverlap":false,"values":[0,50,100,150,200,250],"format":"d","labelExpr":"indexof(['0','150'],datum.label)>=0?datum.label:''"}}}},
      {"data":{"name":"frame"},"mark":"rect","encoding":{}}
    ]},
    {"width":119,"height":51.85,"transform":[{"filter":"isValid(datum.sumR_30d)"}],"layer":[
      {"mark":{"type":"bar","clip":true},"encoding":{"x":{"field":"sumR_30d","type":"quantitative","bin":{"extent":[0,270],"step":10,"nice":false},"scale":{"domain":[-10.8,280.8],"nice":false},"axis":null},"y":{"aggregate":"count","type":"quantitative","scale":{"domain":[0,48],"nice":false,"padding":2},"axis":null}}},
      {"transform":[{"density":"sumR_30d","counts":true,"bandwidth":20,"extent":[-10.8,280.8],"steps":200}],"mark":{"type":"line","clip":true},"encoding":{"x":{"field":"value","type":"quantitative","scale":{"domain":[-10.8,280.8],"nice":false},"axis":null},"y":{"field":"density","type":"quantitative","scale":{"domain":[0,4.8],"nice":false,"padding":2},"axis":null}}},
      {"mark":{"type":"tick","orient":"vertical","size":3},"encoding":{"x":{"field":"sumR_30d","type":"quantitative","scale":{"domain":[-10.8,280.8],"nice":false},"axis":null},"y":{"datum":0,"type":"quantitative","scale":{"domain":[0,48],"nice":false,"padding":2},"axis":null}}},
      {"data":{"name":"vars"},"transform":[{"filter":"datum.name=='sumR_30d'"}],"mark":{"type":"text","fontSize":16.3,"baseline":"alphabetic","dy":-9.4},"encoding":{"text":{"field":"name","type":"nominal"}}},
      {"data":{"name":"frame"},"mark":"rect","encoding":{}}
    ],"resolve":{"scale":{"x":"independent","y":"independent"}}},
    {"width":119,"height":51.85,"data":{"name":"cors"},"transform":[{"filter":"datum.v1=='sumR_30d'&&datum.v2=='sumR_90d'"}],"layer":[
      {"mark":{"type":"text","baseline":"middle","dy":3.5},"encoding":{"text":{"field":"label","type":"nominal"},"size":{"field":"r","type":"quantitative","scale":{"domain":[-1,-0.1,-0.0999,-0.0001,0,0.0999,0.1,1],"range":[41.7,12.84,10.32,7.74,8.78,11.7,15.04,48.9],"nice":false},"legend":null}}},
      {"transform":[{"filter":"datum.signif!='.'"}],"mark":{"type":"text","color":"#ff0000","fontSize":48.9,"baseline":"alphabetic","dx":35.7,"dy":14.3,"clip":true},"encoding":{"text":{"field":"signif","type":"nominal"}}},
      {"transform":[{"filter":"datum.signif=='.'"}],"mark":{"type":"text","color":"#ff0000","fontSize":48.9,"baseline":"alphabetic","dx":35.7,"dy":-11.2},"encoding":{"text":{"field":"signif","type":"nominal"}}},
      {"data":{"name":"frame"},"mark":"rect","encoding":{}}
    ]},
    {"width":119,"height":51.85,"data":{"name":"cors"},"transform":[{"filter":"datum.v1=='sumR_30d'&&datum.v2=='gcc_grasses'"}],"layer":[
      {"mark":{"type":"text","baseline":"middle","dy":3.5},"encoding":{"text":{"field":"label","type":"nominal"},"size":{"field":"r","type":"quantitative","scale":{"domain":[-1,-0.1,-0.0999,-0.0001,0,0.0999,0.1,1],"range":[41.7,12.84,10.32,7.74,8.78,11.7,15.04,48.9],"nice":false},"legend":null}}},
      {"transform":[{"filter":"datum.signif!='.'"}],"mark":{"type":"text","color":"#ff0000","fontSize":48.9,"baseline":"alphabetic","dx":35.7,"dy":14.3,"clip":true},"encoding":{"text":{"field":"signif","type":"nominal"}}},
      {"transform":[{"filter":"datum.signif=='.'"}],"mark":{"type":"text","color":"#ff0000","fontSize":48.9,"baseline":"alphabetic","dx":35.7,"dy":-11.2},"encoding":{"text":{"field":"signif","type":"nominal"}}},
      {"data":{"name":"frame"},"mark":"rect","encoding":{}}
    ]},
    {"width":119,"height":51.85,"data":{"name":"cors"},"transform":[{"filter":"datum.v1=='sumR_30d'&&datum.v2=='ndvi_grasses'"}],"layer":[
      {"mark":{"type":"text","baseline":"middle","dy":3.5},"encoding":{"text":{"field":"label","type":"nominal"},"size":{"field":"r","type":"quantitative","scale":{"domain":[-1,-0.1,-0.0999,-0.0001,0,0.0999,0.1,1],"range":[41.7,12.84,10.32,7.74,8.78,11.7,15.04,48.9],"nice":false},"legend":null}}},
      {"transform":[{"filter":"datum.signif!='.'"}],"mark":{"type":"text","color":"#ff0000","fontSize":48.9,"baseline":"alphabetic","dx":35.7,"dy":14.3,"clip":true},"encoding":{"text":{"field":"signif","type":"nominal"}}},
      {"transform":[{"filter":"datum.signif=='.'"}],"mark":{"type":"text","color":"#ff0000","fontSize":48.9,"baseline":"alphabetic","dx":35.7,"dy":-11.2},"encoding":{"text":{"field":"signif","type":"nominal"}}},
      {"data":{"name":"frame"},"mark":"rect","encoding":{}}
    ]},
    {"width":119,"height":51.85,"data":{"name":"cors"},"transform":[{"filter":"datum.v1=='sumR_30d'&&datum.v2=='gcc_cistus'"}],"layer":[
      {"mark":{"type":"text","baseline":"middle","dy":3.5},"encoding":{"text":{"field":"label","type":"nominal"},"size":{"field":"r","type":"quantitative","scale":{"domain":[-1,-0.1,-0.0999,-0.0001,0,0.0999,0.1,1],"range":[41.7,12.84,10.32,7.74,8.78,11.7,15.04,48.9],"nice":false},"legend":null}}},
      {"transform":[{"filter":"datum.signif!='.'"}],"mark":{"type":"text","color":"#ff0000","fontSize":48.9,"baseline":"alphabetic","dx":35.7,"dy":14.3,"clip":true},"encoding":{"text":{"field":"signif","type":"nominal"}}},
      {"transform":[{"filter":"datum.signif=='.'"}],"mark":{"type":"text","color":"#ff0000","fontSize":48.9,"baseline":"alphabetic","dx":35.7,"dy":-11.2},"encoding":{"text":{"field":"signif","type":"nominal"}}},
      {"data":{"name":"frame"},"mark":"rect","encoding":{}}
    ]},
    {"width":119,"height":51.85,"data":{"name":"cors"},"transform":[{"filter":"datum.v1=='sumR_30d'&&datum.v2=='ndvi_cistus'"}],"layer":[
      {"mark":{"type":"text","baseline":"middle","dy":3.5},"encoding":{"text":{"field":"label","type":"nominal"},"size":{"field":"r","type":"quantitative","scale":{"domain":[-1,-0.1,-0.0999,-0.0001,0,0.0999,0.1,1],"range":[41.7,12.84,10.32,7.74,8.78,11.7,15.04,48.9],"nice":false},"legend":null}}},
      {"transform":[{"filter":"datum.signif!='.'"}],"mark":{"type":"text","color":"#ff0000","fontSize":48.9,"baseline":"alphabetic","dx":35.7,"dy":14.3,"clip":true},"encoding":{"text":{"field":"signif","type":"nominal"}}},
      {"transform":[{"filter":"datum.signif=='.'"}],"mark":{"type":"text","color":"#ff0000","fontSize":48.9,"baseline":"alphabetic","dx":35.7,"dy":-11.2},"encoding":{"text":{"field":"signif","type":"nominal"}}},
      {"data":{"name":"frame"},"mark":"rect","encoding":{}}
    ]},
    {"width":119,"height":51.85,"data":{"name":"cors"},"transform":[{"filter":"datum.v1=='sumR_30d'&&datum.v2=='gcc_ulex'"}],"layer":[
      {"mark":{"type":"text","baseline":"middle","dy":3.5},"encoding":{"text":{"field":"label","type":"nominal"},"size":{"field":"r","type":"quantitative","scale":{"domain":[-1,-0.1,-0.0999,-0.0001,0,0.0999,0.1,1],"range":[41.7,12.84,10.32,7.74,8.78,11.7,15.04,48.9],"nice":false},"legend":null}}},
      {"transform":[{"filter":"datum.signif!='.'"}],"mark":{"type":"text","color":"#ff0000","fontSize":48.9,"baseline":"alphabetic","dx":35.7,"dy":14.3,"clip":true},"encoding":{"text":{"field":"signif","type":"nominal"}}},
      {"transform":[{"filter":"datum.signif=='.'"}],"mark":{"type":"text","color":"#ff0000","fontSize":48.9,"baseline":"alphabetic","dx":35.7,"dy":-11.2},"encoding":{"text":{"field":"signif","type":"nominal"}}},
      {"data":{"name":"frame"},"mark":"rect","encoding":{}}
    ]},
    {"width":119,"height":51.85,"data":{"name":"cors"},"transform":[{"filter":"datum.v1=='sumR_30d'&&datum.v2=='ndvi_ulex'"}],"layer":[
      {"mark":{"type":"text","baseline":"middle","dy":3.5},"encoding":{"text":{"field":"label","type":"nominal"},"size":{"field":"r","type":"quantitative","scale":{"domain":[-1,-0.1,-0.0999,-0.0001,0,0.0999,0.1,1],"range":[41.7,12.84,10.32,7.74,8.78,11.7,15.04,48.9],"nice":false},"legend":null}}},
      {"transform":[{"filter":"datum.signif!='.'"}],"mark":{"type":"text","color":"#ff0000","fontSize":48.9,"baseline":"alphabetic","dx":35.7,"dy":14.3,"clip":true},"encoding":{"text":{"field":"signif","type":"nominal"}}},
      {"transform":[{"filter":"datum.signif=='.'"}],"mark":{"type":"text","color":"#ff0000","fontSize":48.9,"baseline":"alphabetic","dx":35.7,"dy":-11.2},"encoding":{"text":{"field":"signif","type":"nominal"}}},
      {"data":{"name":"frame"},"mark":"rect","encoding":{}}
    ]},

    {"width":119,"height":51.85,"transform":[{"filter":"isValid(datum.sumR)&&isValid(datum.sumR_90d)"}],"layer":[
      {"mark":{"type":"point","clip":true},"encoding":{"x":{"field":"sumR","type":"quantitative","scale":{"domain":[-3.5,90.5],"nice":false},"axis":null},"y":{"field":"sumR_90d","type":"quantitative","scale":{"domain":[-18.4,478.4],"nice":false},"axis":null}}},
      {"transform":[{"loess":"sumR_90d","on":"sumR","bandwidth":0.67}],"mark":{"type":"line","clip":true},"encoding":{"x":{"field":"sumR","type":"quantitative"},"y":{"field":"sumR_90d","type":"quantitative"}}},
      {"data":{"name":"frame"},"mark":"rect","encoding":{}}
    ]},
    {"width":119,"height":51.85,"transform":[{"filter":"isValid(datum.sumR_30d)&&isValid(datum.sumR_90d)"}],"layer":[
      {"mark":{"type":"point","clip":true},"encoding":{"x":{"field":"sumR_30d","type":"quantitative","scale":{"domain":[-10.7,278.7],"nice":false},"axis":null},"y":{"field":"sumR_90d","type":"quantitative","scale":{"domain":[-18.4,478.4],"nice":false},"axis":null}}},
      {"transform":[{"loess":"sumR_90d","on":"sumR_30d","bandwidth":0.67}],"mark":{"type":"line","clip":true},"encoding":{"x":{"field":"sumR_30d","type":"quantitative"},"y":{"field":"sumR_90d","type":"quantitative"}}},
      {"data":{"name":"frame"},"mark":"rect","encoding":{}}
    ]},
    {"width":119,"height":51.85,"transform":[{"filter":"isValid(datum.sumR_90d)"}],"layer":[
      {"mark":{"type":"bar","clip":true},"encoding":{"x":{"field":"sumR_90d","type":"quantitative","bin":{"extent":[0,460],"step":20,"nice":false},"scale":{"domain":[-18.4,478.4],"nice":false},"axis":null},"y":{"aggregate":"count","type":"quantitative","scale":{"domain":[0,27],"nice":false,"padding":2},"axis":null}}},
      {"transform":[{"density":"sumR_90d","counts":true,"bandwidth":25,"extent":[-18.4,478.4],"steps":200}],"mark":{"type":"line","clip":true},"encoding":{"x":{"field":"value","type":"quantitative","scale":{"domain":[-18.4,478.4],"nice":false},"axis":null},"y":{"field":"density","type":"quantitative","scale":{"domain":[0,1.35],"nice":false,"padding":2},"axis":null}}},
      {"mark":{"type":"tick","orient":"vertical","size":3},"encoding":{"x":{"field":"sumR_90d","type":"quantitative","scale":{"domain":[-18.4,478.4],"nice":false},"axis":null},"y":{"datum":0,"type":"quantitative","scale":{"domain":[0,27],"nice":false,"padding":2},"axis":null}}},
      {"data":{"name":"vars"},"transform":[{"filter":"datum.name=='sumR_90d'"}],"mark":{"type":"text","fontSize":16.3,"baseline":"alphabetic","dy":-9.4},"encoding":{"text":{"field":"name","type":"nominal"}}},
      {"data":{"name":"frame"},"mark":"rect","encoding":{}}
    ],"resolve":{"scale":{"x":"independent","y":"independent"}}},
    {"width":119,"height":51.85,"data":{"name":"cors"},"transform":[{"filter":"datum.v1=='sumR_90d'&&datum.v2=='gcc_grasses'"}],"layer":[
      {"mark":{"type":"text","baseline":"middle","dy":3.5},"encoding":{"text":{"field":"label","type":"nominal"},"size":{"field":"r","type":"quantitative","scale":{"domain":[-1,-0.1,-0.0999,-0.0001,0,0.0999,0.1,1],"range":[41.7,12.84,10.32,7.74,8.78,11.7,15.04,48.9],"nice":false},"legend":null}}},
      {"transform":[{"filter":"datum.signif!='.'"}],"mark":{"type":"text","color":"#ff0000","fontSize":48.9,"baseline":"alphabetic","dx":35.7,"dy":14.3,"clip":true},"encoding":{"text":{"field":"signif","type":"nominal"}}},
      {"transform":[{"filter":"datum.signif=='.'"}],"mark":{"type":"text","color":"#ff0000","fontSize":48.9,"baseline":"alphabetic","dx":35.7,"dy":-11.2},"encoding":{"text":{"field":"signif","type":"nominal"}}},
      {"data":{"name":"frame"},"mark":"rect","encoding":{}}
    ]},
    {"width":119,"height":51.85,"data":{"name":"cors"},"transform":[{"filter":"datum.v1=='sumR_90d'&&datum.v2=='ndvi_grasses'"}],"layer":[
      {"mark":{"type":"text","baseline":"middle","dy":3.5},"encoding":{"text":{"field":"label","type":"nominal"},"size":{"field":"r","type":"quantitative","scale":{"domain":[-1,-0.1,-0.0999,-0.0001,0,0.0999,0.1,1],"range":[41.7,12.84,10.32,7.74,8.78,11.7,15.04,48.9],"nice":false},"legend":null}}},
      {"transform":[{"filter":"datum.signif!='.'"}],"mark":{"type":"text","color":"#ff0000","fontSize":48.9,"baseline":"alphabetic","dx":35.7,"dy":14.3,"clip":true},"encoding":{"text":{"field":"signif","type":"nominal"}}},
      {"transform":[{"filter":"datum.signif=='.'"}],"mark":{"type":"text","color":"#ff0000","fontSize":48.9,"baseline":"alphabetic","dx":35.7,"dy":-11.2},"encoding":{"text":{"field":"signif","type":"nominal"}}},
      {"data":{"name":"frame"},"mark":"rect","encoding":{}}
    ]},
    {"width":119,"height":51.85,"data":{"name":"cors"},"transform":[{"filter":"datum.v1=='sumR_90d'&&datum.v2=='gcc_cistus'"}],"layer":[
      {"mark":{"type":"text","baseline":"middle","dy":3.5},"encoding":{"text":{"field":"label","type":"nominal"},"size":{"field":"r","type":"quantitative","scale":{"domain":[-1,-0.1,-0.0999,-0.0001,0,0.0999,0.1,1],"range":[41.7,12.84,10.32,7.74,8.78,11.7,15.04,48.9],"nice":false},"legend":null}}},
      {"transform":[{"filter":"datum.signif!='.'"}],"mark":{"type":"text","color":"#ff0000","fontSize":48.9,"baseline":"alphabetic","dx":35.7,"dy":14.3,"clip":true},"encoding":{"text":{"field":"signif","type":"nominal"}}},
      {"transform":[{"filter":"datum.signif=='.'"}],"mark":{"type":"text","color":"#ff0000","fontSize":48.9,"baseline":"alphabetic","dx":35.7,"dy":-11.2},"encoding":{"text":{"field":"signif","type":"nominal"}}},
      {"data":{"name":"frame"},"mark":"rect","encoding":{}}
    ]},
    {"width":119,"height":51.85,"data":{"name":"cors"},"transform":[{"filter":"datum.v1=='sumR_90d'&&datum.v2=='ndvi_cistus'"}],"layer":[
      {"mark":{"type":"text","baseline":"middle","dy":3.5},"encoding":{"text":{"field":"label","type":"nominal"},"size":{"field":"r","type":"quantitative","scale":{"domain":[-1,-0.1,-0.0999,-0.0001,0,0.0999,0.1,1],"range":[41.7,12.84,10.32,7.74,8.78,11.7,15.04,48.9],"nice":false},"legend":null}}},
      {"transform":[{"filter":"datum.signif!='.'"}],"mark":{"type":"text","color":"#ff0000","fontSize":48.9,"baseline":"alphabetic","dx":35.7,"dy":14.3,"clip":true},"encoding":{"text":{"field":"signif","type":"nominal"}}},
      {"transform":[{"filter":"datum.signif=='.'"}],"mark":{"type":"text","color":"#ff0000","fontSize":48.9,"baseline":"alphabetic","dx":35.7,"dy":-11.2},"encoding":{"text":{"field":"signif","type":"nominal"}}},
      {"data":{"name":"frame"},"mark":"rect","encoding":{}}
    ]},
    {"width":119,"height":51.85,"data":{"name":"cors"},"transform":[{"filter":"datum.v1=='sumR_90d'&&datum.v2=='gcc_ulex'"}],"layer":[
      {"mark":{"type":"text","baseline":"middle","dy":3.5},"encoding":{"text":{"field":"label","type":"nominal"},"size":{"field":"r","type":"quantitative","scale":{"domain":[-1,-0.1,-0.0999,-0.0001,0,0.0999,0.1,1],"range":[41.7,12.84,10.32,7.74,8.78,11.7,15.04,48.9],"nice":false},"legend":null}}},
      {"transform":[{"filter":"datum.signif!='.'"}],"mark":{"type":"text","color":"#ff0000","fontSize":48.9,"baseline":"alphabetic","dx":35.7,"dy":14.3,"clip":true},"encoding":{"text":{"field":"signif","type":"nominal"}}},
      {"transform":[{"filter":"datum.signif=='.'"}],"mark":{"type":"text","color":"#ff0000","fontSize":48.9,"baseline":"alphabetic","dx":35.7,"dy":-11.2},"encoding":{"text":{"field":"signif","type":"nominal"}}},
      {"data":{"name":"frame"},"mark":"rect","encoding":{}}
    ]},
    {"width":119,"height":51.85,"data":{"name":"cors"},"transform":[{"filter":"datum.v1=='sumR_90d'&&datum.v2=='ndvi_ulex'"}],"layer":[
      {"data":{"name":"obs"},"mark":{"type":"point","opacity":0},"encoding":{"y":{"field":"sumR_90d","type":"quantitative","scale":{"domain":[-18.4,478.4],"nice":false},"axis":{"orient":"right","title":null,"labelOverlap":false,"values":[0,100,200,300,400],"format":"d","labelExpr":"indexof(['0','300'],datum.label)>=0?datum.label:''"}}}},
      {"mark":{"type":"text","baseline":"middle","dy":3.5},"encoding":{"text":{"field":"label","type":"nominal"},"size":{"field":"r","type":"quantitative","scale":{"domain":[-1,-0.1,-0.0999,-0.0001,0,0.0999,0.1,1],"range":[41.7,12.84,10.32,7.74,8.78,11.7,15.04,48.9],"nice":false},"legend":null}}},
      {"transform":[{"filter":"datum.signif!='.'"}],"mark":{"type":"text","color":"#ff0000","fontSize":48.9,"baseline":"alphabetic","dx":35.7,"dy":14.3,"clip":true},"encoding":{"text":{"field":"signif","type":"nominal"}}},
      {"transform":[{"filter":"datum.signif=='.'"}],"mark":{"type":"text","color":"#ff0000","fontSize":48.9,"baseline":"alphabetic","dx":35.7,"dy":-11.2},"encoding":{"text":{"field":"signif","type":"nominal"}}},
      {"data":{"name":"frame"},"mark":"rect","encoding":{}}
    ]},

    {"width":119,"height":51.85,"transform":[{"filter":"isValid(datum.sumR)&&isValid(datum.gcc_grasses)"}],"layer":[
      {"mark":{"type":"point","clip":true},"encoding":{"x":{"field":"sumR","type":"quantitative","scale":{"domain":[-3.5,90.5],"nice":false},"axis":null},"y":{"field":"gcc_grasses","type":"quantitative","scale":{"domain":[0.3077,0.4454],"nice":false},"axis":{"orient":"left","title":null,"labelOverlap":false,"values":[0.32,0.34,0.36,0.38,0.4,0.42,0.44],"format":".2f","labelExpr":"indexof(['0.32','0.42'],datum.label)>=0?datum.label:''"}}}},
      {"transform":[{"loess":"gcc_grasses","on":"sumR","bandwidth":0.67}],"mark":{"type":"line","clip":true},"encoding":{"x":{"field":"sumR","type":"quantitative"},"y":{"field":"gcc_grasses","type":"quantitative","axis":{"orient":"left","title":null,"labelOverlap":false,"values":[0.32,0.34,0.36,0.38,0.4,0.42,0.44],"format":".2f","labelExpr":"indexof(['0.32','0.42'],datum.label)>=0?datum.label:''"}}}},
      {"data":{"name":"frame"},"mark":"rect","encoding":{}}
    ]},
    {"width":119,"height":51.85,"transform":[{"filter":"isValid(datum.sumR_30d)&&isValid(datum.gcc_grasses)"}],"layer":[
      {"mark":{"type":"point","clip":true},"encoding":{"x":{"field":"sumR_30d","type":"quantitative","scale":{"domain":[-10.7,278.7],"nice":false},"axis":null},"y":{"field":"gcc_grasses","type":"quantitative","scale":{"domain":[0.3077,0.4454],"nice":false},"axis":null}}},
      {"transform":[{"loess":"gcc_grasses","on":"sumR_30d","bandwidth":0.67}],"mark":{"type":"line","clip":true},"encoding":{"x":{"field":"sumR_30d","type":"quantitative"},"y":{"field":"gcc_grasses","type":"quantitative"}}},
      {"data":{"name":"frame"},"mark":"rect","encoding":{}}
    ]},
    {"width":119,"height":51.85,"transform":[{"filter":"isValid(datum.sumR_90d)&&isValid(datum.gcc_grasses)"}],"layer":[
      {"mark":{"type":"point","clip":true},"encoding":{"x":{"field":"sumR_90d","type":"quantitative","scale":{"domain":[-18.4,478.4],"nice":false},"axis":null},"y":{"field":"gcc_grasses","type":"quantitative","scale":{"domain":[0.3077,0.4454],"nice":false},"axis":null}}},
      {"transform":[{"loess":"gcc_grasses","on":"sumR_90d","bandwidth":0.67}],"mark":{"type":"line","clip":true},"encoding":{"x":{"field":"sumR_90d","type":"quantitative"},"y":{"field":"gcc_grasses","type":"quantitative"}}},
      {"data":{"name":"frame"},"mark":"rect","encoding":{}}
    ]},
    {"width":119,"height":51.85,"transform":[{"filter":"isValid(datum.gcc_grasses)"}],"layer":[
      {"mark":{"type":"bar","clip":true},"encoding":{"x":{"field":"gcc_grasses","type":"quantitative","bin":{"extent":[0.31,0.45],"step":0.02,"nice":false},"scale":{"domain":[0.3044,0.4556],"nice":false},"axis":null},"y":{"aggregate":"count","type":"quantitative","scale":{"domain":[0,15],"nice":false,"padding":2},"axis":null}}},
      {"transform":[{"density":"gcc_grasses","counts":true,"bandwidth":0.0133,"extent":[0.3044,0.4556],"steps":200}],"mark":{"type":"line","clip":true},"encoding":{"x":{"field":"value","type":"quantitative","scale":{"domain":[0.3044,0.4556],"nice":false},"axis":null},"y":{"field":"density","type":"quantitative","scale":{"domain":[0,750],"nice":false,"padding":2},"axis":null}}},
      {"mark":{"type":"tick","orient":"vertical","size":3},"encoding":{"x":{"field":"gcc_grasses","type":"quantitative","scale":{"domain":[0.3044,0.4556],"nice":false},"axis":null},"y":{"datum":0,"type":"quantitative","scale":{"domain":[0,15],"nice":false,"padding":2},"axis":null}}},
      {"data":{"name":"vars"},"transform":[{"filter":"datum.name=='gcc_grasses'"}],"mark":{"type":"text","fontSize":16.3,"baseline":"alphabetic","dy":-9.4},"encoding":{"text":{"field":"name","type":"nominal"}}},
      {"data":{"name":"frame"},"mark":"rect","encoding":{}}
    ],"resolve":{"scale":{"x":"independent","y":"independent"}}},
    {"width":119,"height":51.85,"data":{"name":"cors"},"transform":[{"filter":"datum.v1=='gcc_grasses'&&datum.v2=='ndvi_grasses'"}],"layer":[
      {"mark":{"type":"text","baseline":"middle","dy":3.5},"encoding":{"text":{"field":"label","type":"nominal"},"size":{"field":"r","type":"quantitative","scale":{"domain":[-1,-0.1,-0.0999,-0.0001,0,0.0999,0.1,1],"range":[41.7,12.84,10.32,7.74,8.78,11.7,15.04,48.9],"nice":false},"legend":null}}},
      {"transform":[{"filter":"datum.signif!='.'"}],"mark":{"type":"text","color":"#ff0000","fontSize":48.9,"baseline":"alphabetic","dx":35.7,"dy":14.3,"clip":true},"encoding":{"text":{"field":"signif","type":"nominal"}}},
      {"transform":[{"filter":"datum.signif=='.'"}],"mark":{"type":"text","color":"#ff0000","fontSize":48.9,"baseline":"alphabetic","dx":35.7,"dy":-11.2},"encoding":{"text":{"field":"signif","type":"nominal"}}},
      {"data":{"name":"frame"},"mark":"rect","encoding":{}}
    ]},
    {"width":119,"height":51.85,"data":{"name":"cors"},"transform":[{"filter":"datum.v1=='gcc_grasses'&&datum.v2=='gcc_cistus'"}],"layer":[
      {"mark":{"type":"text","baseline":"middle","dy":3.5},"encoding":{"text":{"field":"label","type":"nominal"},"size":{"field":"r","type":"quantitative","scale":{"domain":[-1,-0.1,-0.0999,-0.0001,0,0.0999,0.1,1],"range":[41.7,12.84,10.32,7.74,8.78,11.7,15.04,48.9],"nice":false},"legend":null}}},
      {"transform":[{"filter":"datum.signif!='.'"}],"mark":{"type":"text","color":"#ff0000","fontSize":48.9,"baseline":"alphabetic","dx":35.7,"dy":14.3,"clip":true},"encoding":{"text":{"field":"signif","type":"nominal"}}},
      {"transform":[{"filter":"datum.signif=='.'"}],"mark":{"type":"text","color":"#ff0000","fontSize":48.9,"baseline":"alphabetic","dx":35.7,"dy":-11.2},"encoding":{"text":{"field":"signif","type":"nominal"}}},
      {"data":{"name":"frame"},"mark":"rect","encoding":{}}
    ]},
    {"width":119,"height":51.85,"data":{"name":"cors"},"transform":[{"filter":"datum.v1=='gcc_grasses'&&datum.v2=='ndvi_cistus'"}],"layer":[
      {"mark":{"type":"text","baseline":"middle","dy":3.5},"encoding":{"text":{"field":"label","type":"nominal"},"size":{"field":"r","type":"quantitative","scale":{"domain":[-1,-0.1,-0.0999,-0.0001,0,0.0999,0.1,1],"range":[41.7,12.84,10.32,7.74,8.78,11.7,15.04,48.9],"nice":false},"legend":null}}},
      {"transform":[{"filter":"datum.signif!='.'"}],"mark":{"type":"text","color":"#ff0000","fontSize":48.9,"baseline":"alphabetic","dx":35.7,"dy":14.3,"clip":true},"encoding":{"text":{"field":"signif","type":"nominal"}}},
      {"transform":[{"filter":"datum.signif=='.'"}],"mark":{"type":"text","color":"#ff0000","fontSize":48.9,"baseline":"alphabetic","dx":35.7,"dy":-11.2},"encoding":{"text":{"field":"signif","type":"nominal"}}},
      {"data":{"name":"frame"},"mark":"rect","encoding":{}}
    ]},
    {"width":119,"height":51.85,"data":{"name":"cors"},"transform":[{"filter":"datum.v1=='gcc_grasses'&&datum.v2=='gcc_ulex'"}],"layer":[
      {"mark":{"type":"text","baseline":"middle","dy":3.5},"encoding":{"text":{"field":"label","type":"nominal"},"size":{"field":"r","type":"quantitative","scale":{"domain":[-1,-0.1,-0.0999,-0.0001,0,0.0999,0.1,1],"range":[41.7,12.84,10.32,7.74,8.78,11.7,15.04,48.9],"nice":false},"legend":null}}},
      {"transform":[{"filter":"datum.signif!='.'"}],"mark":{"type":"text","color":"#ff0000","fontSize":48.9,"baseline":"alphabetic","dx":35.7,"dy":14.3,"clip":true},"encoding":{"text":{"field":"signif","type":"nominal"}}},
      {"transform":[{"filter":"datum.signif=='.'"}],"mark":{"type":"text","color":"#ff0000","fontSize":48.9,"baseline":"alphabetic","dx":35.7,"dy":-11.2},"encoding":{"text":{"field":"signif","type":"nominal"}}},
      {"data":{"name":"frame"},"mark":"rect","encoding":{}}
    ]},
    {"width":119,"height":51.85,"data":{"name":"cors"},"transform":[{"filter":"datum.v1=='gcc_grasses'&&datum.v2=='ndvi_ulex'"}],"layer":[
      {"mark":{"type":"text","baseline":"middle","dy":3.5},"encoding":{"text":{"field":"label","type":"nominal"},"size":{"field":"r","type":"quantitative","scale":{"domain":[-1,-0.1,-0.0999,-0.0001,0,0.0999,0.1,1],"range":[41.7,12.84,10.32,7.74,8.78,11.7,15.04,48.9],"nice":false},"legend":null}}},
      {"transform":[{"filter":"datum.signif!='.'"}],"mark":{"type":"text","color":"#ff0000","fontSize":48.9,"baseline":"alphabetic","dx":35.7,"dy":14.3,"clip":true},"encoding":{"text":{"field":"signif","type":"nominal"}}},
      {"transform":[{"filter":"datum.signif=='.'"}],"mark":{"type":"text","color":"#ff0000","fontSize":48.9,"baseline":"alphabetic","dx":35.7,"dy":-11.2},"encoding":{"text":{"field":"signif","type":"nominal"}}},
      {"data":{"name":"frame"},"mark":"rect","encoding":{}}
    ]},

    {"width":119,"height":51.85,"transform":[{"filter":"isValid(datum.sumR)&&isValid(datum.ndvi_grasses)"}],"layer":[
      {"mark":{"type":"point","clip":true},"encoding":{"x":{"field":"sumR","type":"quantitative","scale":{"domain":[-3.5,90.5],"nice":false},"axis":null},"y":{"field":"ndvi_grasses","type":"quantitative","scale":{"domain":[0.1365,0.8108],"nice":false},"axis":null}}},
      {"transform":[{"loess":"ndvi_grasses","on":"sumR","bandwidth":0.67}],"mark":{"type":"line","clip":true},"encoding":{"x":{"field":"sumR","type":"quantitative"},"y":{"field":"ndvi_grasses","type":"quantitative"}}},
      {"data":{"name":"frame"},"mark":"rect","encoding":{}}
    ]},
    {"width":119,"height":51.85,"transform":[{"filter":"isValid(datum.sumR_30d)&&isValid(datum.ndvi_grasses)"}],"layer":[
      {"mark":{"type":"point","clip":true},"encoding":{"x":{"field":"sumR_30d","type":"quantitative","scale":{"domain":[-10.7,278.7],"nice":false},"axis":null},"y":{"field":"ndvi_grasses","type":"quantitative","scale":{"domain":[0.1365,0.8108],"nice":false},"axis":null}}},
      {"transform":[{"loess":"ndvi_grasses","on":"sumR_30d","bandwidth":0.67}],"mark":{"type":"line","clip":true},"encoding":{"x":{"field":"sumR_30d","type":"quantitative"},"y":{"field":"ndvi_grasses","type":"quantitative"}}},
      {"data":{"name":"frame"},"mark":"rect","encoding":{}}
    ]},
    {"width":119,"height":51.85,"transform":[{"filter":"isValid(datum.sumR_90d)&&isValid(datum.ndvi_grasses)"}],"layer":[
      {"mark":{"type":"point","clip":true},"encoding":{"x":{"field":"sumR_90d","type":"quantitative","scale":{"domain":[-18.4,478.4],"nice":false},"axis":null},"y":{"field":"ndvi_grasses","type":"quantitative","scale":{"domain":[0.1365,0.8108],"nice":false},"axis":null}}},
      {"transform":[{"loess":"ndvi_grasses","on":"sumR_90d","bandwidth":0.67}],"mark":{"type":"line","clip":true},"encoding":{"x":{"field":"sumR_90d","type":"quantitative"},"y":{"field":"ndvi_grasses","type":"quantitative"}}},
      {"data":{"name":"frame"},"mark":"rect","encoding":{}}
    ]},
    {"width":119,"height":51.85,"transform":[{"filter":"isValid(datum.gcc_grasses)&&isValid(datum.ndvi_grasses)"}],"layer":[
      {"mark":{"type":"point","clip":true},"encoding":{"x":{"field":"gcc_grasses","type":"quantitative","scale":{"domain":[0.3077,0.4454],"nice":false},"axis":null},"y":{"field":"ndvi_grasses","type":"quantitative","scale":{"domain":[0.1365,0.8108],"nice":false},"axis":null}}},
      {"transform":[{"loess":"ndvi_grasses","on":"gcc_grasses","bandwidth":0.67}],"mark":{"type":"line","clip":true},"encoding":{"x":{"field":"gcc_grasses","type":"quantitative"},"y":{"field":"ndvi_grasses","type":"quantitative"}}},
      {"data":{"name":"frame"},"mark":"rect","encoding":{}}
    ]},
    {"width":119,"height":51.85,"transform":[{"filter":"isValid(datum.ndvi_grasses)"}],"layer":[
      {"mark":{"type":"bar","clip":true},"encoding":{"x":{"field":"ndvi_grasses","type":"quantitative","bin":{"extent":[0.1,0.9],"step":0.2,"nice":false},"scale":{"domain":[0.068,0.932],"nice":false},"axis":null},"y":{"aggregate":"count","type":"quantitative","scale":{"domain":[0,16],"nice":false,"padding":2},"axis":null}}},
      {"transform":[{"density":"ndvi_grasses","counts":true,"bandwidth":0.082,"extent":[0.068,0.932],"steps":200}],"mark":{"type":"line","clip":true},"encoding":{"x":{"field":"value","type":"quantitative","scale":{"domain":[0.068,0.932],"nice":false},"axis":null},"y":{"field":"density","type":"quantitative","scale":{"domain":[0,80],"nice":false,"padding":2},"axis":null}}},
      {"mark":{"type":"tick","orient":"vertical","size":3},"encoding":{"x":{"field":"ndvi_grasses","type":"quantitative","scale":{"domain":[0.068,0.932],"nice":false},"axis":null},"y":{"datum":0,"type":"quantitative","scale":{"domain":[0,16],"nice":false,"padding":2},"axis":null}}},
      {"data":{"name":"vars"},"transform":[{"filter":"datum.name=='ndvi_grasses'"}],"mark":{"type":"text","fontSize":16.3,"baseline":"alphabetic","dy":-9.4},"encoding":{"text":{"field":"name","type":"nominal"}}},
      {"data":{"name":"frame"},"mark":"rect","encoding":{}}
    ],"resolve":{"scale":{"x":"independent","y":"independent"}}},
    {"width":119,"height":51.85,"data":{"name":"cors"},"transform":[{"filter":"datum.v1=='ndvi_grasses'&&datum.v2=='gcc_cistus'"}],"layer":[
      {"mark":{"type":"text","baseline":"middle","dy":3.5},"encoding":{"text":{"field":"label","type":"nominal"},"size":{"field":"r","type":"quantitative","scale":{"domain":[-1,-0.1,-0.0999,-0.0001,0,0.0999,0.1,1],"range":[41.7,12.84,10.32,7.74,8.78,11.7,15.04,48.9],"nice":false},"legend":null}}},
      {"transform":[{"filter":"datum.signif!='.'"}],"mark":{"type":"text","color":"#ff0000","fontSize":48.9,"baseline":"alphabetic","dx":35.7,"dy":14.3,"clip":true},"encoding":{"text":{"field":"signif","type":"nominal"}}},
      {"transform":[{"filter":"datum.signif=='.'"}],"mark":{"type":"text","color":"#ff0000","fontSize":48.9,"baseline":"alphabetic","dx":35.7,"dy":-11.2},"encoding":{"text":{"field":"signif","type":"nominal"}}},
      {"data":{"name":"frame"},"mark":"rect","encoding":{}}
    ]},
    {"width":119,"height":51.85,"data":{"name":"cors"},"transform":[{"filter":"datum.v1=='ndvi_grasses'&&datum.v2=='ndvi_cistus'"}],"layer":[
      {"mark":{"type":"text","baseline":"middle","dy":3.5},"encoding":{"text":{"field":"label","type":"nominal"},"size":{"field":"r","type":"quantitative","scale":{"domain":[-1,-0.1,-0.0999,-0.0001,0,0.0999,0.1,1],"range":[41.7,12.84,10.32,7.74,8.78,11.7,15.04,48.9],"nice":false},"legend":null}}},
      {"transform":[{"filter":"datum.signif!='.'"}],"mark":{"type":"text","color":"#ff0000","fontSize":48.9,"baseline":"alphabetic","dx":35.7,"dy":14.3,"clip":true},"encoding":{"text":{"field":"signif","type":"nominal"}}},
      {"transform":[{"filter":"datum.signif=='.'"}],"mark":{"type":"text","color":"#ff0000","fontSize":48.9,"baseline":"alphabetic","dx":35.7,"dy":-11.2},"encoding":{"text":{"field":"signif","type":"nominal"}}},
      {"data":{"name":"frame"},"mark":"rect","encoding":{}}
    ]},
    {"width":119,"height":51.85,"data":{"name":"cors"},"transform":[{"filter":"datum.v1=='ndvi_grasses'&&datum.v2=='gcc_ulex'"}],"layer":[
      {"mark":{"type":"text","baseline":"middle","dy":3.5},"encoding":{"text":{"field":"label","type":"nominal"},"size":{"field":"r","type":"quantitative","scale":{"domain":[-1,-0.1,-0.0999,-0.0001,0,0.0999,0.1,1],"range":[41.7,12.84,10.32,7.74,8.78,11.7,15.04,48.9],"nice":false},"legend":null}}},
      {"transform":[{"filter":"datum.signif!='.'"}],"mark":{"type":"text","color":"#ff0000","fontSize":48.9,"baseline":"alphabetic","dx":35.7,"dy":14.3,"clip":true},"encoding":{"text":{"field":"signif","type":"nominal"}}},
      {"transform":[{"filter":"datum.signif=='.'"}],"mark":{"type":"text","color":"#ff0000","fontSize":48.9,"baseline":"alphabetic","dx":35.7,"dy":-11.2},"encoding":{"text":{"field":"signif","type":"nominal"}}},
      {"data":{"name":"frame"},"mark":"rect","encoding":{}}
    ]},
    {"width":119,"height":51.85,"data":{"name":"cors"},"transform":[{"filter":"datum.v1=='ndvi_grasses'&&datum.v2=='ndvi_ulex'"}],"layer":[
      {"data":{"name":"obs"},"mark":{"type":"point","opacity":0},"encoding":{"y":{"field":"ndvi_grasses","type":"quantitative","scale":{"domain":[0.1365,0.8108],"nice":false},"axis":{"orient":"right","title":null,"labelOverlap":false,"values":[0.2,0.3,0.4,0.5,0.6,0.7],"format":".1f","labelExpr":"indexof(['0.2','0.5'],datum.label)>=0?datum.label:''"}}}},
      {"mark":{"type":"text","baseline":"middle","dy":3.5},"encoding":{"text":{"field":"label","type":"nominal"},"size":{"field":"r","type":"quantitative","scale":{"domain":[-1,-0.1,-0.0999,-0.0001,0,0.0999,0.1,1],"range":[41.7,12.84,10.32,7.74,8.78,11.7,15.04,48.9],"nice":false},"legend":null}}},
      {"transform":[{"filter":"datum.signif!='.'"}],"mark":{"type":"text","color":"#ff0000","fontSize":48.9,"baseline":"alphabetic","dx":35.7,"dy":14.3,"clip":true},"encoding":{"text":{"field":"signif","type":"nominal"}}},
      {"transform":[{"filter":"datum.signif=='.'"}],"mark":{"type":"text","color":"#ff0000","fontSize":48.9,"baseline":"alphabetic","dx":35.7,"dy":-11.2},"encoding":{"text":{"field":"signif","type":"nominal"}}},
      {"data":{"name":"frame"},"mark":"rect","encoding":{}}
    ]},

    {"width":119,"height":51.85,"transform":[{"filter":"isValid(datum.sumR)&&isValid(datum.gcc_cistus)"}],"layer":[
      {"mark":{"type":"point","clip":true},"encoding":{"x":{"field":"sumR","type":"quantitative","scale":{"domain":[-3.5,90.5],"nice":false},"axis":null},"y":{"field":"gcc_cistus","type":"quantitative","scale":{"domain":[0.3257,0.429],"nice":false},"axis":{"orient":"left","title":null,"labelOverlap":false,"values":[0.34,0.36,0.38,0.4,0.42],"format":".2f","labelExpr":"indexof(['0.34','0.42'],datum.label)>=0?datum.label:''"}}}},
      {"transform":[{"loess":"gcc_cistus","on":"sumR","bandwidth":0.67}],"mark":{"type":"line","clip":true},"encoding":{"x":{"field":"sumR","type":"quantitative"},"y":{"field":"gcc_cistus","type":"quantitative","axis":{"orient":"left","title":null,"labelOverlap":false,"values":[0.34,0.36,0.38,0.4,0.42],"format":".2f","labelExpr":"indexof(['0.34','0.42'],datum.label)>=0?datum.label:''"}}}},
      {"data":{"name":"frame"},"mark":"rect","encoding":{}}
    ]},
    {"width":119,"height":51.85,"transform":[{"filter":"isValid(datum.sumR_30d)&&isValid(datum.gcc_cistus)"}],"layer":[
      {"mark":{"type":"point","clip":true},"encoding":{"x":{"field":"sumR_30d","type":"quantitative","scale":{"domain":[-10.7,278.7],"nice":false},"axis":null},"y":{"field":"gcc_cistus","type":"quantitative","scale":{"domain":[0.3257,0.429],"nice":false},"axis":null}}},
      {"transform":[{"loess":"gcc_cistus","on":"sumR_30d","bandwidth":0.67}],"mark":{"type":"line","clip":true},"encoding":{"x":{"field":"sumR_30d","type":"quantitative"},"y":{"field":"gcc_cistus","type":"quantitative"}}},
      {"data":{"name":"frame"},"mark":"rect","encoding":{}}
    ]},
    {"width":119,"height":51.85,"transform":[{"filter":"isValid(datum.sumR_90d)&&isValid(datum.gcc_cistus)"}],"layer":[
      {"mark":{"type":"point","clip":true},"encoding":{"x":{"field":"sumR_90d","type":"quantitative","scale":{"domain":[-18.4,478.4],"nice":false},"axis":null},"y":{"field":"gcc_cistus","type":"quantitative","scale":{"domain":[0.3257,0.429],"nice":false},"axis":null}}},
      {"transform":[{"loess":"gcc_cistus","on":"sumR_90d","bandwidth":0.67}],"mark":{"type":"line","clip":true},"encoding":{"x":{"field":"sumR_90d","type":"quantitative"},"y":{"field":"gcc_cistus","type":"quantitative"}}},
      {"data":{"name":"frame"},"mark":"rect","encoding":{}}
    ]},
    {"width":119,"height":51.85,"transform":[{"filter":"isValid(datum.gcc_grasses)&&isValid(datum.gcc_cistus)"}],"layer":[
      {"mark":{"type":"point","clip":true},"encoding":{"x":{"field":"gcc_grasses","type":"quantitative","scale":{"domain":[0.3077,0.4454],"nice":false},"axis":null},"y":{"field":"gcc_cistus","type":"quantitative","scale":{"domain":[0.3257,0.429],"nice":false},"axis":null}}},
      {"transform":[{"loess":"gcc_cistus","on":"gcc_grasses","bandwidth":0.67}],"mark":{"type":"line","clip":true},"encoding":{"x":{"field":"gcc_grasses","type":"quantitative"},"y":{"field":"gcc_cistus","type":"quantitative"}}},
      {"data":{"name":"frame"},"mark":"rect","encoding":{}}
    ]},
    {"width":119,"height":51.85,"transform":[{"filter":"isValid(datum.ndvi_grasses)&&isValid(datum.gcc_cistus)"}],"layer":[
      {"mark":{"type":"point","clip":true},"encoding":{"x":{"field":"ndvi_grasses","type":"quantitative","scale":{"domain":[0.1365,0.8108],"nice":false},"axis":null},"y":{"field":"gcc_cistus","type":"quantitative","scale":{"domain":[0.3257,0.429],"nice":false},"axis":null}}},
      {"transform":[{"loess":"gcc_cistus","on":"ndvi_grasses","bandwidth":0.67}],"mark":{"type":"line","clip":true},"encoding":{"x":{"field":"ndvi_grasses","type":"quantitative"},"y":{"field":"gcc_cistus","type":"quantitative"}}},
      {"data":{"name":"frame"},"mark":"rect","encoding":{}}
    ]},
    {"width":119,"height":51.85,"transform":[{"filter":"isValid(datum.gcc_cistus)"}],"layer":[
      {"mark":{"type":"bar","clip":true},"encoding":{"x":{"field":"gcc_cistus","type":"quantitative","bin":{"extent":[0.32,0.44],"step":0.02,"nice":false},"scale":{"domain":[0.3152,0.4448],"nice":false},"axis":null},"y":{"aggregate":"count","type":"quantitative","scale":{"domain":[0,8],"nice":false,"padding":2},"axis":null}}},
      {"transform":[{"density":"gcc_cistus","counts":true,"bandwidth":0.012,"extent":[0.3152,0.4448],"steps":200}],"mark":{"type":"line","clip":true},"encoding":{"x":{"field":"value","type":"quantitative","scale":{"domain":[0.3152,0.4448],"nice":false},"axis":null},"y":{"field":"density","type":"quantitative","scale":{"domain":[0,400],"nice":false,"padding":2},"axis":null}}},
      {"mark":{"type":"tick","orient":"vertical","size":3},"encoding":{"x":{"field":"gcc_cistus","type":"quantitative","scale":{"domain":[0.3152,0.4448],"nice":false},"axis":null},"y":{"datum":0,"type":"quantitative","scale":{"domain":[0,8],"nice":false,"padding":2},"axis":null}}},
      {"data":{"name":"vars"},"transform":[{"filter":"datum.name=='gcc_cistus'"}],"mark":{"type":"text","fontSize":16.3,"baseline":"alphabetic","dy":-9.4},"encoding":{"text":{"field":"name","type":"nominal"}}},
      {"data":{"name":"frame"},"mark":"rect","encoding":{}}
    ],"resolve":{"scale":{"x":"independent","y":"independent"}}},
    {"width":119,"height":51.85,"data":{"name":"cors"},"transform":[{"filter":"datum.v1=='gcc_cistus'&&datum.v2=='ndvi_cistus'"}],"layer":[
      {"mark":{"type":"text","baseline":"middle","dy":3.5},"encoding":{"text":{"field":"label","type":"nominal"},"size":{"field":"r","type":"quantitative","scale":{"domain":[-1,-0.1,-0.0999,-0.0001,0,0.0999,0.1,1],"range":[41.7,12.84,10.32,7.74,8.78,11.7,15.04,48.9],"nice":false},"legend":null}}},
      {"transform":[{"filter":"datum.signif!='.'"}],"mark":{"type":"text","color":"#ff0000","fontSize":48.9,"baseline":"alphabetic","dx":35.7,"dy":14.3,"clip":true},"encoding":{"text":{"field":"signif","type":"nominal"}}},
      {"transform":[{"filter":"datum.signif=='.'"}],"mark":{"type":"text","color":"#ff0000","fontSize":48.9,"baseline":"alphabetic","dx":35.7,"dy":-11.2},"encoding":{"text":{"field":"signif","type":"nominal"}}},
      {"data":{"name":"frame"},"mark":"rect","encoding":{}}
    ]},
    {"width":119,"height":51.85,"data":{"name":"cors"},"transform":[{"filter":"datum.v1=='gcc_cistus'&&datum.v2=='gcc_ulex'"}],"layer":[
      {"mark":{"type":"text","baseline":"middle","dy":3.5},"encoding":{"text":{"field":"label","type":"nominal"},"size":{"field":"r","type":"quantitative","scale":{"domain":[-1,-0.1,-0.0999,-0.0001,0,0.0999,0.1,1],"range":[41.7,12.84,10.32,7.74,8.78,11.7,15.04,48.9],"nice":false},"legend":null}}},
      {"transform":[{"filter":"datum.signif!='.'"}],"mark":{"type":"text","color":"#ff0000","fontSize":48.9,"baseline":"alphabetic","dx":35.7,"dy":14.3,"clip":true},"encoding":{"text":{"field":"signif","type":"nominal"}}},
      {"transform":[{"filter":"datum.signif=='.'"}],"mark":{"type":"text","color":"#ff0000","fontSize":48.9,"baseline":"alphabetic","dx":35.7,"dy":-11.2},"encoding":{"text":{"field":"signif","type":"nominal"}}},
      {"data":{"name":"frame"},"mark":"rect","encoding":{}}
    ]},
    {"width":119,"height":51.85,"data":{"name":"cors"},"transform":[{"filter":"datum.v1=='gcc_cistus'&&datum.v2=='ndvi_ulex'"}],"layer":[
      {"mark":{"type":"text","baseline":"middle","dy":3.5},"encoding":{"text":{"field":"label","type":"nominal"},"size":{"field":"r","type":"quantitative","scale":{"domain":[-1,-0.1,-0.0999,-0.0001,0,0.0999,0.1,1],"range":[41.7,12.84,10.32,7.74,8.78,11.7,15.04,48.9],"nice":false},"legend":null}}},
      {"transform":[{"filter":"datum.signif!='.'"}],"mark":{"type":"text","color":"#ff0000","fontSize":48.9,"baseline":"alphabetic","dx":35.7,"dy":14.3,"clip":true},"encoding":{"text":{"field":"signif","type":"nominal"}}},
      {"transform":[{"filter":"datum.signif=='.'"}],"mark":{"type":"text","color":"#ff0000","fontSize":48.9,"baseline":"alphabetic","dx":35.7,"dy":-11.2},"encoding":{"text":{"field":"signif","type":"nominal"}}},
      {"data":{"name":"frame"},"mark":"rect","encoding":{}}
    ]},

    {"width":119,"height":51.85,"transform":[{"filter":"isValid(datum.sumR)&&isValid(datum.ndvi_cistus)"}],"layer":[
      {"mark":{"type":"point","clip":true},"encoding":{"x":{"field":"sumR","type":"quantitative","scale":{"domain":[-3.5,90.5],"nice":false},"axis":null},"y":{"field":"ndvi_cistus","type":"quantitative","scale":{"domain":[0.4288,0.8572],"nice":false},"axis":null}}},
      {"transform":[{"loess":"ndvi_cistus","on":"sumR","bandwidth":0.67}],"mark":{"type":"line","clip":true},"encoding":{"x":{"field":"sumR","type":"quantitative"},"y":{"field":"ndvi_cistus","type":"quantitative"}}},
      {"data":{"name":"frame"},"mark":"rect","encoding":{}}
    ]},
    {"width":119,"height":51.85,"transform":[{"filter":"isValid(datum.sumR_30d)&&isValid(datum.ndvi_cistus)"}],"layer":[
      {"mark":{"type":"point","clip":true},"encoding":{"x":{"field":"sumR_30d","type":"quantitative","scale":{"domain":[-10.7,278.7],"nice":false},"axis":null},"y":{"field":"ndvi_cistus","type":"quantitative","scale":{"domain":[0.4288,0.8572],"nice":false},"axis":null}}},
      {"transform":[{"loess":"ndvi_cistus","on":"sumR_30d","bandwidth":0.67}],"mark":{"type":"line","clip":true},"encoding":{"x":{"field":"sumR_30d","type":"quantitative"},"y":{"field":"ndvi_cistus","type":"quantitative"}}},
      {"data":{"name":"frame"},"mark":"rect","encoding":{}}
    ]},
    {"width":119,"height":51.85,"transform":[{"filter":"isValid(datum.sumR_90d)&&isValid(datum.ndvi_cistus)"}],"layer":[
      {"mark":{"type":"point","clip":true},"encoding":{"x":{"field":"sumR_90d","type":"quantitative","scale":{"domain":[-18.4,478.4],"nice":false},"axis":null},"y":{"field":"ndvi_cistus","type":"quantitative","scale":{"domain":[0.4288,0.8572],"nice":false},"axis":null}}},
      {"transform":[{"loess":"ndvi_cistus","on":"sumR_90d","bandwidth":0.67}],"mark":{"type":"line","clip":true},"encoding":{"x":{"field":"sumR_90d","type":"quantitative"},"y":{"field":"ndvi_cistus","type":"quantitative"}}},
      {"data":{"name":"frame"},"mark":"rect","encoding":{}}
    ]},
    {"width":119,"height":51.85,"transform":[{"filter":"isValid(datum.gcc_grasses)&&isValid(datum.ndvi_cistus)"}],"layer":[
      {"mark":{"type":"point","clip":true},"encoding":{"x":{"field":"gcc_grasses","type":"quantitative","scale":{"domain":[0.3077,0.4454],"nice":false},"axis":null},"y":{"field":"ndvi_cistus","type":"quantitative","scale":{"domain":[0.4288,0.8572],"nice":false},"axis":null}}},
      {"transform":[{"loess":"ndvi_cistus","on":"gcc_grasses","bandwidth":0.67}],"mark":{"type":"line","clip":true},"encoding":{"x":{"field":"gcc_grasses","type":"quantitative"},"y":{"field":"ndvi_cistus","type":"quantitative"}}},
      {"data":{"name":"frame"},"mark":"rect","encoding":{}}
    ]},
    {"width":119,"height":51.85,"transform":[{"filter":"isValid(datum.ndvi_grasses)&&isValid(datum.ndvi_cistus)"}],"layer":[
      {"mark":{"type":"point","clip":true},"encoding":{"x":{"field":"ndvi_grasses","type":"quantitative","scale":{"domain":[0.1365,0.8108],"nice":false},"axis":null},"y":{"field":"ndvi_cistus","type":"quantitative","scale":{"domain":[0.4288,0.8572],"nice":false},"axis":null}}},
      {"transform":[{"loess":"ndvi_cistus","on":"ndvi_grasses","bandwidth":0.67}],"mark":{"type":"line","clip":true},"encoding":{"x":{"field":"ndvi_grasses","type":"quantitative"},"y":{"field":"ndvi_cistus","type":"quantitative"}}},
      {"data":{"name":"frame"},"mark":"rect","encoding":{}}
    ]},
    {"width":119,"height":51.85,"transform":[{"filter":"isValid(datum.gcc_cistus)&&isValid(datum.ndvi_cistus)"}],"layer":[
      {"mark":{"type":"point","clip":true},"encoding":{"x":{"field":"gcc_cistus","type":"quantitative","scale":{"domain":[0.3257,0.429],"nice":false},"axis":null},"y":{"field":"ndvi_cistus","type":"quantitative","scale":{"domain":[0.4288,0.8572],"nice":false},"axis":null}}},
      {"transform":[{"loess":"ndvi_cistus","on":"gcc_cistus","bandwidth":0.67}],"mark":{"type":"line","clip":true},"encoding":{"x":{"field":"gcc_cistus","type":"quantitative"},"y":{"field":"ndvi_cistus","type":"quantitative"}}},
      {"data":{"name":"frame"},"mark":"rect","encoding":{}}
    ]},
    {"width":119,"height":51.85,"transform":[{"filter":"isValid(datum.ndvi_cistus)"}],"layer":[
      {"mark":{"type":"bar","clip":true},"encoding":{"x":{"field":"ndvi_cistus","type":"quantitative","bin":{"extent":[0.4,0.9],"step":0.1,"nice":false},"scale":{"domain":[0.38,0.92],"nice":false},"axis":null},"y":{"aggregate":"count","type":"quantitative","scale":{"domain":[0,19],"nice":false,"padding":2},"axis":null}}},
      {"transform":[{"density":"ndvi_cistus","counts":true,"bandwidth":0.052,"extent":[0.38,0.92],"steps":200}],"mark":{"type":"line","clip":true},"encoding":{"x":{"field":"value","type":"quantitative","scale":{"domain":[0.38,0.92],"nice":false},"axis":null},"y":{"field":"density","type":"quantitative","scale":{"domain":[0,190],"nice":false,"padding":2},"axis":null}}},
      {"mark":{"type":"tick","orient":"vertical","size":3},"encoding":{"x":{"field":"ndvi_cistus","type":"quantitative","scale":{"domain":[0.38,0.92],"nice":false},"axis":null},"y":{"datum":0,"type":"quantitative","scale":{"domain":[0,19],"nice":false,"padding":2},"axis":null}}},
      {"data":{"name":"vars"},"transform":[{"filter":"datum.name=='ndvi_cistus'"}],"mark":{"type":"text","fontSize":16.3,"baseline":"alphabetic","dy":-9.4},"encoding":{"text":{"field":"name","type":"nominal"}}},
      {"data":{"name":"frame"},"mark":"rect","encoding":{}}
    ],"resolve":{"scale":{"x":"independent","y":"independent"}}},
    {"width":119,"height":51.85,"data":{"name":"cors"},"transform":[{"filter":"datum.v1=='ndvi_cistus'&&datum.v2=='gcc_ulex'"}],"layer":[
      {"mark":{"type":"text","baseline":"middle","dy":3.5},"encoding":{"text":{"field":"label","type":"nominal"},"size":{"field":"r","type":"quantitative","scale":{"domain":[-1,-0.1,-0.0999,-0.0001,0,0.0999,0.1,1],"range":[41.7,12.84,10.32,7.74,8.78,11.7,15.04,48.9],"nice":false},"legend":null}}},
      {"transform":[{"filter":"datum.signif!='.'"}],"mark":{"type":"text","color":"#ff0000","fontSize":48.9,"baseline":"alphabetic","dx":35.7,"dy":14.3,"clip":true},"encoding":{"text":{"field":"signif","type":"nominal"}}},
      {"transform":[{"filter":"datum.signif=='.'"}],"mark":{"type":"text","color":"#ff0000","fontSize":48.9,"baseline":"alphabetic","dx":35.7,"dy":-11.2},"encoding":{"text":{"field":"signif","type":"nominal"}}},
      {"data":{"name":"frame"},"mark":"rect","encoding":{}}
    ]},
    {"width":119,"height":51.85,"data":{"name":"cors"},"transform":[{"filter":"datum.v1=='ndvi_cistus'&&datum.v2=='ndvi_ulex'"}],"layer":[
      {"data":{"name":"obs"},"mark":{"type":"point","opacity":0},"encoding":{"y":{"field":"ndvi_cistus","type":"quantitative","scale":{"domain":[0.4288,0.8572],"nice":false},"axis":{"orient":"right","title":null,"labelOverlap":false,"values":[0.5,0.6,0.7,0.8],"format":".1f","labelExpr":"indexof(['0.5','0.7'],datum.label)>=0?datum.label:''"}}}},
      {"mark":{"type":"text","baseline":"middle","dy":3.5},"encoding":{"text":{"field":"label","type":"nominal"},"size":{"field":"r","type":"quantitative","scale":{"domain":[-1,-0.1,-0.0999,-0.0001,0,0.0999,0.1,1],"range":[41.7,12.84,10.32,7.74,8.78,11.7,15.04,48.9],"nice":false},"legend":null}}},
      {"transform":[{"filter":"datum.signif!='.'"}],"mark":{"type":"text","color":"#ff0000","fontSize":48.9,"baseline":"alphabetic","dx":35.7,"dy":14.3,"clip":true},"encoding":{"text":{"field":"signif","type":"nominal"}}},
      {"transform":[{"filter":"datum.signif=='.'"}],"mark":{"type":"text","color":"#ff0000","fontSize":48.9,"baseline":"alphabetic","dx":35.7,"dy":-11.2},"encoding":{"text":{"field":"signif","type":"nominal"}}},
      {"data":{"name":"frame"},"mark":"rect","encoding":{}}
    ]},

    {"width":119,"height":51.85,"transform":[{"filter":"isValid(datum.sumR)&&isValid(datum.gcc_ulex)"}],"layer":[
      {"mark":{"type":"point","clip":true},"encoding":{"x":{"field":"sumR","type":"quantitative","scale":{"domain":[-3.5,90.5],"nice":false},"axis":null},"y":{"field":"gcc_ulex","type":"quantitative","scale":{"domain":[0.3627,0.4939],"nice":false},"axis":{"orient":"left","title":null,"labelOverlap":false,"values":[0.38,0.4,0.42,0.44,0.46,0.48],"format":".2f","labelExpr":"indexof(['0.38','0.46'],datum.label)>=0?datum.label:''"}}}},
      {"transform":[{"loess":"gcc_ulex","on":"sumR","bandwidth":0.67}],"mark":{"type":"line","clip":true},"encoding":{"x":{"field":"sumR","type":"quantitative"},"y":{"field":"gcc_ulex","type":"quantitative","axis":{"orient":"left","title":null,"labelOverlap":false,"values":[0.38,0.4,0.42,0.44,0.46,0.48],"format":".2f","labelExpr":"indexof(['0.38','0.46'],datum.label)>=0?datum.label:''"}}}},
      {"data":{"name":"frame"},"mark":"rect","encoding":{}}
    ]},
    {"width":119,"height":51.85,"transform":[{"filter":"isValid(datum.sumR_30d)&&isValid(datum.gcc_ulex)"}],"layer":[
      {"mark":{"type":"point","clip":true},"encoding":{"x":{"field":"sumR_30d","type":"quantitative","scale":{"domain":[-10.7,278.7],"nice":false},"axis":null},"y":{"field":"gcc_ulex","type":"quantitative","scale":{"domain":[0.3627,0.4939],"nice":false},"axis":null}}},
      {"transform":[{"loess":"gcc_ulex","on":"sumR_30d","bandwidth":0.67}],"mark":{"type":"line","clip":true},"encoding":{"x":{"field":"sumR_30d","type":"quantitative"},"y":{"field":"gcc_ulex","type":"quantitative"}}},
      {"data":{"name":"frame"},"mark":"rect","encoding":{}}
    ]},
    {"width":119,"height":51.85,"transform":[{"filter":"isValid(datum.sumR_90d)&&isValid(datum.gcc_ulex)"}],"layer":[
      {"mark":{"type":"point","clip":true},"encoding":{"x":{"field":"sumR_90d","type":"quantitative","scale":{"domain":[-18.4,478.4],"nice":false},"axis":null},"y":{"field":"gcc_ulex","type":"quantitative","scale":{"domain":[0.3627,0.4939],"nice":false},"axis":null}}},
      {"transform":[{"loess":"gcc_ulex","on":"sumR_90d","bandwidth":0.67}],"mark":{"type":"line","clip":true},"encoding":{"x":{"field":"sumR_90d","type":"quantitative"},"y":{"field":"gcc_ulex","type":"quantitative"}}},
      {"data":{"name":"frame"},"mark":"rect","encoding":{}}
    ]},
    {"width":119,"height":51.85,"transform":[{"filter":"isValid(datum.gcc_grasses)&&isValid(datum.gcc_ulex)"}],"layer":[
      {"mark":{"type":"point","clip":true},"encoding":{"x":{"field":"gcc_grasses","type":"quantitative","scale":{"domain":[0.3077,0.4454],"nice":false},"axis":null},"y":{"field":"gcc_ulex","type":"quantitative","scale":{"domain":[0.3627,0.4939],"nice":false},"axis":null}}},
      {"transform":[{"loess":"gcc_ulex","on":"gcc_grasses","bandwidth":0.67}],"mark":{"type":"line","clip":true},"encoding":{"x":{"field":"gcc_grasses","type":"quantitative"},"y":{"field":"gcc_ulex","type":"quantitative"}}},
      {"data":{"name":"frame"},"mark":"rect","encoding":{}}
    ]},
    {"width":119,"height":51.85,"transform":[{"filter":"isValid(datum.ndvi_grasses)&&isValid(datum.gcc_ulex)"}],"layer":[
      {"mark":{"type":"point","clip":true},"encoding":{"x":{"field":"ndvi_grasses","type":"quantitative","scale":{"domain":[0.1365,0.8108],"nice":false},"axis":null},"y":{"field":"gcc_ulex","type":"quantitative","scale":{"domain":[0.3627,0.4939],"nice":false},"axis":null}}},
      {"transform":[{"loess":"gcc_ulex","on":"ndvi_grasses","bandwidth":0.67}],"mark":{"type":"line","clip":true},"encoding":{"x":{"field":"ndvi_grasses","type":"quantitative"},"y":{"field":"gcc_ulex","type":"quantitative"}}},
      {"data":{"name":"frame"},"mark":"rect","encoding":{}}
    ]},
    {"width":119,"height":51.85,"transform":[{"filter":"isValid(datum.gcc_cistus)&&isValid(datum.gcc_ulex)"}],"layer":[
      {"mark":{"type":"point","clip":true},"encoding":{"x":{"field":"gcc_cistus","type":"quantitative","scale":{"domain":[0.3257,0.429],"nice":false},"axis":null},"y":{"field":"gcc_ulex","type":"quantitative","scale":{"domain":[0.3627,0.4939],"nice":false},"axis":null}}},
      {"transform":[{"loess":"gcc_ulex","on":"gcc_cistus","bandwidth":0.67}],"mark":{"type":"line","clip":true},"encoding":{"x":{"field":"gcc_cistus","type":"quantitative"},"y":{"field":"gcc_ulex","type":"quantitative"}}},
      {"data":{"name":"frame"},"mark":"rect","encoding":{}}
    ]},
    {"width":119,"height":51.85,"transform":[{"filter":"isValid(datum.ndvi_cistus)&&isValid(datum.gcc_ulex)"}],"layer":[
      {"mark":{"type":"point","clip":true},"encoding":{"x":{"field":"ndvi_cistus","type":"quantitative","scale":{"domain":[0.4288,0.8572],"nice":false},"axis":null},"y":{"field":"gcc_ulex","type":"quantitative","scale":{"domain":[0.3627,0.4939],"nice":false},"axis":null}}},
      {"transform":[{"loess":"gcc_ulex","on":"ndvi_cistus","bandwidth":0.67}],"mark":{"type":"line","clip":true},"encoding":{"x":{"field":"ndvi_cistus","type":"quantitative"},"y":{"field":"gcc_ulex","type":"quantitative"}}},
      {"data":{"name":"frame"},"mark":"rect","encoding":{}}
    ]},
    {"width":119,"height":51.85,"transform":[{"filter":"isValid(datum.gcc_ulex)"}],"layer":[
      {"mark":{"type":"bar","clip":true},"encoding":{"x":{"field":"gcc_ulex","type":"quantitative","bin":{"extent":[0.36,0.5],"step":0.02,"nice":false},"scale":{"domain":[0.3544,0.5056],"nice":false},"axis":null},"y":{"aggregate":"count","type":"quantitative","scale":{"domain":[0,14],"nice":false,"padding":2},"axis":null}}},
      {"transform":[{"density":"gcc_ulex","counts":true,"bandwidth":0.0099,"extent":[0.3544,0.5056],"steps":200}],"mark":{"type":"line","clip":true},"encoding":{"x":{"field":"value","type":"quantitative","scale":{"domain":[0.3544,0.5056],"nice":false},"axis":null},"y":{"field":"density","type":"quantitative","scale":{"domain":[0,700],"nice":false,"padding":2},"axis":null}}},
      {"mark":{"type":"tick","orient":"vertical","size":3},"encoding":{"x":{"field":"gcc_ulex","type":"quantitative","scale":{"domain":[0.3544,0.5056],"nice":false},"axis":null},"y":{"datum":0,"type":"quantitative","scale":{"domain":[0,14],"nice":false,"padding":2},"axis":null}}},
      {"data":{"name":"vars"},"transform":[{"filter":"datum.name=='gcc_ulex'"}],"mark":{"type":"text","fontSize":16.3,"baseline":"alphabetic","dy":-9.4},"encoding":{"text":{"field":"name","type":"nominal"}}},
      {"data":{"name":"frame"},"mark":"rect","encoding":{}}
    ],"resolve":{"scale":{"x":"independent","y":"independent"}}},
    {"width":119,"height":51.85,"data":{"name":"cors"},"transform":[{"filter":"datum.v1=='gcc_ulex'&&datum.v2=='ndvi_ulex'"}],"layer":[
      {"mark":{"type":"text","baseline":"middle","dy":3.5},"encoding":{"text":{"field":"label","type":"nominal"},"size":{"field":"r","type":"quantitative","scale":{"domain":[-1,-0.1,-0.0999,-0.0001,0,0.0999,0.1,1],"range":[41.7,12.84,10.32,7.74,8.78,11.7,15.04,48.9],"nice":false},"legend":null}}},
      {"transform":[{"filter":"datum.signif!='.'"}],"mark":{"type":"text","color":"#ff0000","fontSize":48.9,"baseline":"alphabetic","dx":35.7,"dy":14.3,"clip":true},"encoding":{"text":{"field":"signif","type":"nominal"}}},
      {"transform":[{"filter":"datum.signif=='.'"}],"mark":{"type":"text","color":"#ff0000","fontSize":48.9,"baseline":"alphabetic","dx":35.7,"dy":-11.2},"encoding":{"text":{"field":"signif","type":"nominal"}}},
      {"data":{"name":"frame"},"mark":"rect","encoding":{}}
    ]},

    {"width":119,"height":51.85,"transform":[{"filter":"isValid(datum.sumR)&&isValid(datum.ndvi_ulex)"}],"layer":[
      {"mark":{"type":"point","clip":true},"encoding":{"x":{"field":"sumR","type":"quantitative","scale":{"domain":[-3.5,90.5],"nice":false},"axis":{"orient":"bottom","title":null,"labelOverlap":false,"values":[0,20,40,60,80],"format":"d"}},"y":{"field":"ndvi_ulex","type":"quantitative","scale":{"domain":[0.5964,0.8514],"nice":false},"axis":null}}},
      {"transform":[{"loess":"ndvi_ulex","on":"sumR","bandwidth":0.67}],"mark":{"type":"line","clip":true},"encoding":{"x":{"field":"sumR","type":"quantitative","axis":{"orient":"bottom","title":null,"labelOverlap":false,"values":[0,20,40,60,80],"format":"d"}},"y":{"field":"ndvi_ulex","type":"quantitative"}}},
      {"data":{"name":"frame"},"mark":"rect","encoding":{}}
    ]},
    {"width":119,"height":51.85,"transform":[{"filter":"isValid(datum.sumR_30d)&&isValid(datum.ndvi_ulex)"}],"layer":[
      {"mark":{"type":"point","clip":true},"encoding":{"x":{"field":"sumR_30d","type":"quantitative","scale":{"domain":[-10.7,278.7],"nice":false},"axis":null},"y":{"field":"ndvi_ulex","type":"quantitative","scale":{"domain":[0.5964,0.8514],"nice":false},"axis":null}}},
      {"transform":[{"loess":"ndvi_ulex","on":"sumR_30d","bandwidth":0.67}],"mark":{"type":"line","clip":true},"encoding":{"x":{"field":"sumR_30d","type":"quantitative"},"y":{"field":"ndvi_ulex","type":"quantitative"}}},
      {"data":{"name":"frame"},"mark":"rect","encoding":{}}
    ]},
    {"width":119,"height":51.85,"transform":[{"filter":"isValid(datum.sumR_90d)&&isValid(datum.ndvi_ulex)"}],"layer":[
      {"mark":{"type":"point","clip":true},"encoding":{"x":{"field":"sumR_90d","type":"quantitative","scale":{"domain":[-18.4,478.4],"nice":false},"axis":{"orient":"bottom","title":null,"labelOverlap":false,"values":[0,100,200,300,400],"format":"d","labelExpr":"indexof(['0','100','300'],datum.label)>=0?datum.label:''"}},"y":{"field":"ndvi_ulex","type":"quantitative","scale":{"domain":[0.5964,0.8514],"nice":false},"axis":null}}},
      {"transform":[{"loess":"ndvi_ulex","on":"sumR_90d","bandwidth":0.67}],"mark":{"type":"line","clip":true},"encoding":{"x":{"field":"sumR_90d","type":"quantitative","axis":{"orient":"bottom","title":null,"labelOverlap":false,"values":[0,100,200,300,400],"format":"d","labelExpr":"indexof(['0','100','300'],datum.label)>=0?datum.label:''"}},"y":{"field":"ndvi_ulex","type":"quantitative"}}},
      {"data":{"name":"frame"},"mark":"rect","encoding":{}}
    ]},
    {"width":119,"height":51.85,"transform":[{"filter":"isValid(datum.gcc_grasses)&&isValid(datum.ndvi_ulex)"}],"layer":[
      {"mark":{"type":"point","clip":true},"encoding":{"x":{"field":"gcc_grasses","type":"quantitative","scale":{"domain":[0.3077,0.4454],"nice":false},"axis":null},"y":{"field":"ndvi_ulex","type":"quantitative","scale":{"domain":[0.5964,0.8514],"nice":false},"axis":null}}},
      {"transform":[{"loess":"ndvi_ulex","on":"gcc_grasses","bandwidth":0.67}],"mark":{"type":"line","clip":true},"encoding":{"x":{"field":"gcc_grasses","type":"quantitative"},"y":{"field":"ndvi_ulex","type":"quantitative"}}},
      {"data":{"name":"frame"},"mark":"rect","encoding":{}}
    ]},
    {"width":119,"height":51.85,"transform":[{"filter":"isValid(datum.ndvi_grasses)&&isValid(datum.ndvi_ulex)"}],"layer":[
      {"mark":{"type":"point","clip":true},"encoding":{"x":{"field":"ndvi_grasses","type":"quantitative","scale":{"domain":[0.1365,0.8108],"nice":false},"axis":{"orient":"bottom","title":null,"labelOverlap":false,"values":[0.2,0.3,0.4,0.5,0.6,0.7],"format":".1f","labelExpr":"indexof(['0.2','0.4','0.6'],datum.label)>=0?datum.label:''"}},"y":{"field":"ndvi_ulex","type":"quantitative","scale":{"domain":[0.5964,0.8514],"nice":false},"axis":null}}},
      {"transform":[{"loess":"ndvi_ulex","on":"ndvi_grasses","bandwidth":0.67}],"mark":{"type":"line","clip":true},"encoding":{"x":{"field":"ndvi_grasses","type":"quantitative","axis":{"orient":"bottom","title":null,"labelOverlap":false,"values":[0.2,0.3,0.4,0.5,0.6,0.7],"format":".1f","labelExpr":"indexof(['0.2','0.4','0.6'],datum.label)>=0?datum.label:''"}},"y":{"field":"ndvi_ulex","type":"quantitative"}}},
      {"data":{"name":"frame"},"mark":"rect","encoding":{}}
    ]},
    {"width":119,"height":51.85,"transform":[{"filter":"isValid(datum.gcc_cistus)&&isValid(datum.ndvi_ulex)"}],"layer":[
      {"mark":{"type":"point","clip":true},"encoding":{"x":{"field":"gcc_cistus","type":"quantitative","scale":{"domain":[0.3257,0.429],"nice":false},"axis":null},"y":{"field":"ndvi_ulex","type":"quantitative","scale":{"domain":[0.5964,0.8514],"nice":false},"axis":null}}},
      {"transform":[{"loess":"ndvi_ulex","on":"gcc_cistus","bandwidth":0.67}],"mark":{"type":"line","clip":true},"encoding":{"x":{"field":"gcc_cistus","type":"quantitative"},"y":{"field":"ndvi_ulex","type":"quantitative"}}},
      {"data":{"name":"frame"},"mark":"rect","encoding":{}}
    ]},
    {"width":119,"height":51.85,"transform":[{"filter":"isValid(datum.ndvi_cistus)&&isValid(datum.ndvi_ulex)"}],"layer":[
      {"mark":{"type":"point","clip":true},"encoding":{"x":{"field":"ndvi_cistus","type":"quantitative","scale":{"domain":[0.4288,0.8572],"nice":false},"axis":{"orient":"bottom","title":null,"labelOverlap":false,"values":[0.5,0.6,0.7,0.8],"format":".1f"}},"y":{"field":"ndvi_ulex","type":"quantitative","scale":{"domain":[0.5964,0.8514],"nice":false},"axis":null}}},
      {"transform":[{"loess":"ndvi_ulex","on":"ndvi_cistus","bandwidth":0.67}],"mark":{"type":"line","clip":true},"encoding":{"x":{"field":"ndvi_cistus","type":"quantitative","axis":{"orient":"bottom","title":null,"labelOverlap":false,"values":[0.5,0.6,0.7,0.8],"format":".1f"}},"y":{"field":"ndvi_ulex","type":"quantitative"}}},
      {"data":{"name":"frame"},"mark":"rect","encoding":{}}
    ]},
    {"width":119,"height":51.85,"transform":[{"filter":"isValid(datum.gcc_ulex)&&isValid(datum.ndvi_ulex)"}],"layer":[
      {"mark":{"type":"point","clip":true},"encoding":{"x":{"field":"gcc_ulex","type":"quantitative","scale":{"domain":[0.3627,0.4939],"nice":false},"axis":null},"y":{"field":"ndvi_ulex","type":"quantitative","scale":{"domain":[0.5964,0.8514],"nice":false},"axis":null}}},
      {"transform":[{"loess":"ndvi_ulex","on":"gcc_ulex","bandwidth":0.67}],"mark":{"type":"line","clip":true},"encoding":{"x":{"field":"gcc_ulex","type":"quantitative"},"y":{"field":"ndvi_ulex","type":"quantitative"}}},
      {"data":{"name":"frame"},"mark":"rect","encoding":{}}
    ]},
    {"width":119,"height":51.85,"transform":[{"filter":"isValid(datum.ndvi_ulex)"}],"layer":[
      {"mark":{"type":"bar","clip":true},"encoding":{"x":{"field":"ndvi_ulex","type":"quantitative","bin":{"extent":[0.6,0.85],"step":0.05,"nice":false},"scale":{"domain":[0.59,0.86],"nice":false},"axis":null},"y":{"aggregate":"count","type":"quantitative","scale":{"domain":[0,13],"nice":false,"padding":2},"axis":null}}},
      {"transform":[{"density":"ndvi_ulex","counts":true,"bandwidth":0.026,"extent":[0.59,0.86],"steps":200}],"mark":{"type":"line","clip":true},"encoding":{"x":{"field":"value","type":"quantitative","scale":{"domain":[0.59,0.86],"nice":false},"axis":null},"y":{"field":"density","type":"quantitative","scale":{"domain":[0,260],"nice":false,"padding":2},"axis":null}}},
      {"mark":{"type":"tick","orient":"vertical","size":3},"encoding":{"x":{"field":"ndvi_ulex","type":"quantitative","scale":{"domain":[0.59,0.86],"nice":false},"axis":null},"y":{"datum":0,"type":"quantitative","scale":{"domain":[0,13],"nice":false,"padding":2},"axis":null}}},
      {"data":{"name":"vars"},"transform":[{"filter":"datum.name=='ndvi_ulex'"}],"mark":{"type":"text","fontSize":16.3,"baseline":"alphabetic","dy":-9.4},"encoding":{"text":{"field":"name","type":"nominal"}}},
      {"mark":{"type":"point","opacity":0},"encoding":{"x":{"field":"ndvi_ulex","type":"quantitative","scale":{"domain":[0.5964,0.8514],"nice":false},"axis":{"orient":"bottom","title":null,"labelOverlap":false,"values":[0.6,0.65,0.7,0.75,0.8],"format":".2f","labelExpr":"indexof(['0.60','0.70','0.80'],datum.label)>=0?datum.label:''"}},"y":{"field":"ndvi_ulex","type":"quantitative","scale":{"domain":[0.5964,0.8514],"nice":false},"axis":{"orient":"right","title":null,"labelOverlap":false,"values":[0.6,0.65,0.7,0.75,0.8],"format":".2f","labelExpr":"indexof(['0.60','0.75'],datum.label)>=0?datum.label:''"}}}},
      {"data":{"name":"frame"},"mark":"rect","encoding":{}}
    ],"resolve":{"scale":{"x":"independent","y":"independent"}}}
  ],
  "config": {
    "font": "Liberation Sans",
    "view": {"stroke": "#000", "strokeWidth": 1},
    "scale": {"zero": false},
    "point": {"shape": "circle", "filled": false, "size": 20, "color": "#000", "strokeWidth": 0.9, "opacity": 1},
    "line": {"color": "#ff0000", "strokeWidth": 1},
    "bar": {"fill": "#d3d3d3", "stroke": "#000", "strokeWidth": 1, "binSpacing": 0},
    "rect": {"filled": false, "color": "#000", "strokeWidth": 1},
    "tick": {"color": "#000", "thickness": 1},
    "text": {"font": "Liberation Sans", "color": "#000"},
    "axis": {"domain": false, "grid": false, "ticks": true, "tickColor": "#000", "tickSize": 6.5, "tickWidth": 1, "labelColor": "#000", "labelFont": "Liberation Sans", "labelFontSize": 11.5, "labelOverlap": false, "labelSeparation": -300, "labelFlush": false, "labelBound": false},
    "axisTop": {"labelPadding": 7, "labelAngle": 0, "labelAlign": "center", "labelBaseline": "bottom"},
    "axisBottom": {"labelPadding": 5.5, "labelAngle": 0, "labelAlign": "center", "labelBaseline": "top"},
    "axisLeft": {"labelPadding": 8.5, "labelAngle": -90, "labelAlign": "center", "labelBaseline": "bottom"},
    "axisRight": {"labelPadding": 7, "labelAngle": -90, "labelAlign": "center", "labelBaseline": "top"}
  }
}
